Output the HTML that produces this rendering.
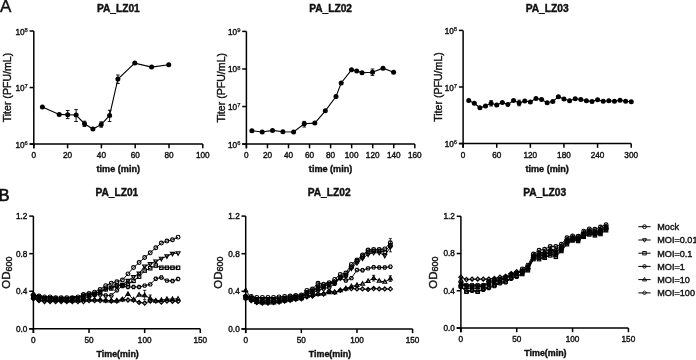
<!DOCTYPE html>
<html><head><meta charset="utf-8">
<style>
html,body{margin:0;padding:0;background:#fff;}
body{width:696px;height:360px;overflow:hidden;}
svg{display:block;filter:grayscale(1);}
text{font-family:"Liberation Sans", sans-serif;fill:#111;stroke:#111;stroke-width:0.4px;}
</style></head><body>
<svg width="696" height="360" viewBox="0 0 696 360">
<rect width="696" height="360" fill="#fff"/>
<g stroke="#000" fill="#000" stroke-linecap="butt">
<text x="0.00" y="12.40" font-size="17" font-weight="normal" text-anchor="start" >A</text>
<text x="-1.60" y="200.60" font-size="16.5" font-weight="normal" text-anchor="start" style="stroke-width:0.7px">B</text>
<text x="118.30" y="11.80" font-size="10.2" font-weight="bold" text-anchor="middle" >PA_LZ01</text>
<line x1="33.80" y1="31.00" x2="33.80" y2="148.30" stroke-width="1.5" />
<line x1="29.60" y1="144.10" x2="202.80" y2="144.10" stroke-width="1.5" />
<line x1="29.60" y1="144.10" x2="33.80" y2="144.10" stroke-width="1.5" />
<text x="27.80" y="147.60" font-size="8.2" text-anchor="end">10<tspan font-size="5.8" dy="-2.7" style="stroke-width:0.25px">6</tspan></text>
<line x1="29.60" y1="87.55" x2="33.80" y2="87.55" stroke-width="1.5" />
<text x="27.80" y="91.05" font-size="8.2" text-anchor="end">10<tspan font-size="5.8" dy="-2.7" style="stroke-width:0.25px">7</tspan></text>
<line x1="29.60" y1="31.00" x2="33.80" y2="31.00" stroke-width="1.5" />
<text x="27.80" y="34.50" font-size="8.2" text-anchor="end">10<tspan font-size="5.8" dy="-2.7" style="stroke-width:0.25px">8</tspan></text>
<line x1="33.80" y1="144.10" x2="33.80" y2="148.30" stroke-width="1.5" />
<text x="33.80" y="157.90" font-size="8.2" font-weight="normal" text-anchor="middle" >0</text>
<line x1="67.60" y1="144.10" x2="67.60" y2="148.30" stroke-width="1.5" />
<text x="67.60" y="157.90" font-size="8.2" font-weight="normal" text-anchor="middle" >20</text>
<line x1="101.40" y1="144.10" x2="101.40" y2="148.30" stroke-width="1.5" />
<text x="101.40" y="157.90" font-size="8.2" font-weight="normal" text-anchor="middle" >40</text>
<line x1="135.20" y1="144.10" x2="135.20" y2="148.30" stroke-width="1.5" />
<text x="135.20" y="157.90" font-size="8.2" font-weight="normal" text-anchor="middle" >60</text>
<line x1="169.00" y1="144.10" x2="169.00" y2="148.30" stroke-width="1.5" />
<text x="169.00" y="157.90" font-size="8.2" font-weight="normal" text-anchor="middle" >80</text>
<line x1="202.80" y1="144.10" x2="202.80" y2="148.30" stroke-width="1.5" />
<text x="202.80" y="157.90" font-size="8.2" font-weight="normal" text-anchor="middle" >100</text>
<text x="118.30" y="171.60" font-size="9.1" font-weight="bold" text-anchor="middle" >time (min)</text>
<text x="11.10" y="87.55" font-size="10.6" font-weight="normal" text-anchor="middle" transform="rotate(-90 11.10 87.55)">Titer (PFU/mL)</text>
<path d="M42.40,107.00 L59.20,114.40 L67.70,114.70 L76.10,115.00 L84.50,123.70 L92.90,129.00 L101.20,124.50 L109.60,115.40 L117.90,79.00 L134.75,63.10 L151.60,67.10 L168.75,64.75" fill="none" stroke-width="1.1"/>
<line x1="67.70" y1="110.50" x2="67.70" y2="118.60" stroke-width="0.9" />
<line x1="65.90" y1="110.50" x2="69.50" y2="110.50" stroke-width="0.9" />
<line x1="65.90" y1="118.60" x2="69.50" y2="118.60" stroke-width="0.9" />
<line x1="76.10" y1="109.60" x2="76.10" y2="121.50" stroke-width="0.9" />
<line x1="74.30" y1="109.60" x2="77.90" y2="109.60" stroke-width="0.9" />
<line x1="74.30" y1="121.50" x2="77.90" y2="121.50" stroke-width="0.9" />
<line x1="84.50" y1="121.20" x2="84.50" y2="126.50" stroke-width="0.9" />
<line x1="82.70" y1="121.20" x2="86.30" y2="121.20" stroke-width="0.9" />
<line x1="82.70" y1="126.50" x2="86.30" y2="126.50" stroke-width="0.9" />
<line x1="101.20" y1="121.80" x2="101.20" y2="127.20" stroke-width="0.9" />
<line x1="99.40" y1="121.80" x2="103.00" y2="121.80" stroke-width="0.9" />
<line x1="99.40" y1="127.20" x2="103.00" y2="127.20" stroke-width="0.9" />
<line x1="109.60" y1="110.30" x2="109.60" y2="121.50" stroke-width="0.9" />
<line x1="107.80" y1="110.30" x2="111.40" y2="110.30" stroke-width="0.9" />
<line x1="107.80" y1="121.50" x2="111.40" y2="121.50" stroke-width="0.9" />
<line x1="117.90" y1="75.00" x2="117.90" y2="83.50" stroke-width="0.9" />
<line x1="116.10" y1="75.00" x2="119.70" y2="75.00" stroke-width="0.9" />
<line x1="116.10" y1="83.50" x2="119.70" y2="83.50" stroke-width="0.9" />
<circle cx="42.40" cy="107.00" r="2.5" stroke="none"/>
<circle cx="59.20" cy="114.40" r="2.5" stroke="none"/>
<circle cx="67.70" cy="114.70" r="2.5" stroke="none"/>
<circle cx="76.10" cy="115.00" r="2.5" stroke="none"/>
<circle cx="84.50" cy="123.70" r="2.5" stroke="none"/>
<circle cx="92.90" cy="129.00" r="2.5" stroke="none"/>
<circle cx="101.20" cy="124.50" r="2.5" stroke="none"/>
<circle cx="109.60" cy="115.40" r="2.5" stroke="none"/>
<circle cx="117.90" cy="79.00" r="2.5" stroke="none"/>
<circle cx="134.75" cy="63.10" r="2.5" stroke="none"/>
<circle cx="151.60" cy="67.10" r="2.5" stroke="none"/>
<circle cx="168.75" cy="64.75" r="2.5" stroke="none"/>
<text x="330.60" y="11.80" font-size="10.2" font-weight="bold" text-anchor="middle" >PA_LZ02</text>
<line x1="246.40" y1="31.40" x2="246.40" y2="148.30" stroke-width="1.5" />
<line x1="242.20" y1="144.10" x2="414.80" y2="144.10" stroke-width="1.5" />
<line x1="242.20" y1="144.10" x2="246.40" y2="144.10" stroke-width="1.5" />
<text x="240.40" y="147.60" font-size="8.2" text-anchor="end">10<tspan font-size="5.8" dy="-2.7" style="stroke-width:0.25px">6</tspan></text>
<line x1="242.20" y1="106.53" x2="246.40" y2="106.53" stroke-width="1.5" />
<text x="240.40" y="110.03" font-size="8.2" text-anchor="end">10<tspan font-size="5.8" dy="-2.7" style="stroke-width:0.25px">7</tspan></text>
<line x1="242.20" y1="68.97" x2="246.40" y2="68.97" stroke-width="1.5" />
<text x="240.40" y="72.47" font-size="8.2" text-anchor="end">10<tspan font-size="5.8" dy="-2.7" style="stroke-width:0.25px">8</tspan></text>
<line x1="242.20" y1="31.40" x2="246.40" y2="31.40" stroke-width="1.5" />
<text x="240.40" y="34.90" font-size="8.2" text-anchor="end">10<tspan font-size="5.8" dy="-2.7" style="stroke-width:0.25px">9</tspan></text>
<line x1="246.40" y1="144.10" x2="246.40" y2="148.30" stroke-width="1.5" />
<text x="246.40" y="157.90" font-size="8.2" font-weight="normal" text-anchor="middle" >0</text>
<line x1="267.45" y1="144.10" x2="267.45" y2="148.30" stroke-width="1.5" />
<text x="267.45" y="157.90" font-size="8.2" font-weight="normal" text-anchor="middle" >20</text>
<line x1="288.50" y1="144.10" x2="288.50" y2="148.30" stroke-width="1.5" />
<text x="288.50" y="157.90" font-size="8.2" font-weight="normal" text-anchor="middle" >40</text>
<line x1="309.55" y1="144.10" x2="309.55" y2="148.30" stroke-width="1.5" />
<text x="309.55" y="157.90" font-size="8.2" font-weight="normal" text-anchor="middle" >60</text>
<line x1="330.60" y1="144.10" x2="330.60" y2="148.30" stroke-width="1.5" />
<text x="330.60" y="157.90" font-size="8.2" font-weight="normal" text-anchor="middle" >80</text>
<line x1="351.65" y1="144.10" x2="351.65" y2="148.30" stroke-width="1.5" />
<text x="351.65" y="157.90" font-size="8.2" font-weight="normal" text-anchor="middle" >100</text>
<line x1="372.70" y1="144.10" x2="372.70" y2="148.30" stroke-width="1.5" />
<text x="372.70" y="157.90" font-size="8.2" font-weight="normal" text-anchor="middle" >120</text>
<line x1="393.75" y1="144.10" x2="393.75" y2="148.30" stroke-width="1.5" />
<text x="393.75" y="157.90" font-size="8.2" font-weight="normal" text-anchor="middle" >140</text>
<line x1="414.80" y1="144.10" x2="414.80" y2="148.30" stroke-width="1.5" />
<text x="414.80" y="157.90" font-size="8.2" font-weight="normal" text-anchor="middle" >160</text>
<text x="330.60" y="171.60" font-size="9.1" font-weight="bold" text-anchor="middle" >time (min)</text>
<text x="224.50" y="87.75" font-size="10.6" font-weight="normal" text-anchor="middle" transform="rotate(-90 224.50 87.75)">Titer (PFU/mL)</text>
<path d="M251.90,130.70 L262.20,132.00 L272.50,130.40 L282.90,131.70 L293.60,132.00 L304.20,123.70 L314.80,123.10 L325.30,110.80 L336.00,96.60 L341.20,83.00 L351.50,69.80 L356.70,70.90 L362.00,72.70 L372.50,72.20 L383.00,68.20 L393.60,72.20" fill="none" stroke-width="1.1"/>
<line x1="304.20" y1="121.40" x2="304.20" y2="127.00" stroke-width="0.9" />
<line x1="302.40" y1="121.40" x2="306.00" y2="121.40" stroke-width="0.9" />
<line x1="302.40" y1="127.00" x2="306.00" y2="127.00" stroke-width="0.9" />
<line x1="372.50" y1="69.00" x2="372.50" y2="75.40" stroke-width="0.9" />
<line x1="370.70" y1="69.00" x2="374.30" y2="69.00" stroke-width="0.9" />
<line x1="370.70" y1="75.40" x2="374.30" y2="75.40" stroke-width="0.9" />
<circle cx="251.90" cy="130.70" r="2.5" stroke="none"/>
<circle cx="262.20" cy="132.00" r="2.5" stroke="none"/>
<circle cx="272.50" cy="130.40" r="2.5" stroke="none"/>
<circle cx="282.90" cy="131.70" r="2.5" stroke="none"/>
<circle cx="293.60" cy="132.00" r="2.5" stroke="none"/>
<circle cx="304.20" cy="123.70" r="2.5" stroke="none"/>
<circle cx="314.80" cy="123.10" r="2.5" stroke="none"/>
<circle cx="325.30" cy="110.80" r="2.5" stroke="none"/>
<circle cx="336.00" cy="96.60" r="2.5" stroke="none"/>
<circle cx="341.20" cy="83.00" r="2.5" stroke="none"/>
<circle cx="351.50" cy="69.80" r="2.5" stroke="none"/>
<circle cx="356.70" cy="70.90" r="2.5" stroke="none"/>
<circle cx="362.00" cy="72.70" r="2.5" stroke="none"/>
<circle cx="372.50" cy="72.20" r="2.5" stroke="none"/>
<circle cx="383.00" cy="68.20" r="2.5" stroke="none"/>
<circle cx="393.60" cy="72.20" r="2.5" stroke="none"/>
<text x="547.15" y="11.80" font-size="10.2" font-weight="bold" text-anchor="middle" >PA_LZ03</text>
<line x1="463.10" y1="30.40" x2="463.10" y2="147.80" stroke-width="1.5" />
<line x1="458.90" y1="143.60" x2="631.20" y2="143.60" stroke-width="1.5" />
<line x1="458.90" y1="143.60" x2="463.10" y2="143.60" stroke-width="1.5" />
<text x="457.10" y="147.10" font-size="8.2" text-anchor="end">10<tspan font-size="5.8" dy="-2.7" style="stroke-width:0.25px">6</tspan></text>
<line x1="458.90" y1="87.00" x2="463.10" y2="87.00" stroke-width="1.5" />
<text x="457.10" y="90.50" font-size="8.2" text-anchor="end">10<tspan font-size="5.8" dy="-2.7" style="stroke-width:0.25px">7</tspan></text>
<line x1="458.90" y1="30.40" x2="463.10" y2="30.40" stroke-width="1.5" />
<text x="457.10" y="33.90" font-size="8.2" text-anchor="end">10<tspan font-size="5.8" dy="-2.7" style="stroke-width:0.25px">8</tspan></text>
<line x1="463.10" y1="143.60" x2="463.10" y2="147.80" stroke-width="1.5" />
<text x="463.10" y="157.90" font-size="8.2" font-weight="normal" text-anchor="middle" >0</text>
<line x1="496.72" y1="143.60" x2="496.72" y2="147.80" stroke-width="1.5" />
<text x="496.72" y="157.90" font-size="8.2" font-weight="normal" text-anchor="middle" >60</text>
<line x1="530.34" y1="143.60" x2="530.34" y2="147.80" stroke-width="1.5" />
<text x="530.34" y="157.90" font-size="8.2" font-weight="normal" text-anchor="middle" >120</text>
<line x1="563.96" y1="143.60" x2="563.96" y2="147.80" stroke-width="1.5" />
<text x="563.96" y="157.90" font-size="8.2" font-weight="normal" text-anchor="middle" >180</text>
<line x1="597.58" y1="143.60" x2="597.58" y2="147.80" stroke-width="1.5" />
<text x="597.58" y="157.90" font-size="8.2" font-weight="normal" text-anchor="middle" >240</text>
<line x1="631.20" y1="143.60" x2="631.20" y2="147.80" stroke-width="1.5" />
<text x="631.20" y="157.90" font-size="8.2" font-weight="normal" text-anchor="middle" >300</text>
<text x="547.15" y="171.60" font-size="9.1" font-weight="bold" text-anchor="middle" >time (min)</text>
<text x="441.80" y="87.00" font-size="10.6" font-weight="normal" text-anchor="middle" transform="rotate(-90 441.80 87.00)">Titer (PFU/mL)</text>
<path d="M468.71,100.40 L474.31,103.30 L479.92,107.80 L485.52,105.90 L491.12,103.30 L496.73,105.00 L502.34,102.40 L507.94,104.60 L513.55,100.40 L519.15,103.00 L524.75,100.90 L530.36,102.00 L535.97,98.40 L541.57,99.60 L547.18,102.70 L552.78,101.60 L558.38,96.70 L563.99,99.10 L569.60,100.70 L575.20,98.70 L580.81,99.40 L586.41,100.70 L592.01,101.40 L597.62,99.80 L603.23,101.20 L608.83,100.70 L614.44,101.20 L620.04,100.20 L625.64,101.20 L631.25,101.80" fill="none" stroke-width="1.1"/>
<line x1="491.12" y1="100.60" x2="491.12" y2="106.00" stroke-width="0.9" />
<line x1="489.32" y1="100.60" x2="492.93" y2="100.60" stroke-width="0.9" />
<line x1="489.32" y1="106.00" x2="492.93" y2="106.00" stroke-width="0.9" />
<line x1="519.15" y1="100.20" x2="519.15" y2="105.80" stroke-width="0.9" />
<line x1="517.35" y1="100.20" x2="520.95" y2="100.20" stroke-width="0.9" />
<line x1="517.35" y1="105.80" x2="520.95" y2="105.80" stroke-width="0.9" />
<circle cx="468.71" cy="100.40" r="2.5" stroke="none"/>
<circle cx="474.31" cy="103.30" r="2.5" stroke="none"/>
<circle cx="479.92" cy="107.80" r="2.5" stroke="none"/>
<circle cx="485.52" cy="105.90" r="2.5" stroke="none"/>
<circle cx="491.12" cy="103.30" r="2.5" stroke="none"/>
<circle cx="496.73" cy="105.00" r="2.5" stroke="none"/>
<circle cx="502.34" cy="102.40" r="2.5" stroke="none"/>
<circle cx="507.94" cy="104.60" r="2.5" stroke="none"/>
<circle cx="513.55" cy="100.40" r="2.5" stroke="none"/>
<circle cx="519.15" cy="103.00" r="2.5" stroke="none"/>
<circle cx="524.75" cy="100.90" r="2.5" stroke="none"/>
<circle cx="530.36" cy="102.00" r="2.5" stroke="none"/>
<circle cx="535.97" cy="98.40" r="2.5" stroke="none"/>
<circle cx="541.57" cy="99.60" r="2.5" stroke="none"/>
<circle cx="547.18" cy="102.70" r="2.5" stroke="none"/>
<circle cx="552.78" cy="101.60" r="2.5" stroke="none"/>
<circle cx="558.38" cy="96.70" r="2.5" stroke="none"/>
<circle cx="563.99" cy="99.10" r="2.5" stroke="none"/>
<circle cx="569.60" cy="100.70" r="2.5" stroke="none"/>
<circle cx="575.20" cy="98.70" r="2.5" stroke="none"/>
<circle cx="580.81" cy="99.40" r="2.5" stroke="none"/>
<circle cx="586.41" cy="100.70" r="2.5" stroke="none"/>
<circle cx="592.01" cy="101.40" r="2.5" stroke="none"/>
<circle cx="597.62" cy="99.80" r="2.5" stroke="none"/>
<circle cx="603.23" cy="101.20" r="2.5" stroke="none"/>
<circle cx="608.83" cy="100.70" r="2.5" stroke="none"/>
<circle cx="614.44" cy="101.20" r="2.5" stroke="none"/>
<circle cx="620.04" cy="100.20" r="2.5" stroke="none"/>
<circle cx="625.64" cy="101.20" r="2.5" stroke="none"/>
<circle cx="631.25" cy="101.80" r="2.5" stroke="none"/>
<text x="116.85" y="196.10" font-size="10.2" font-weight="bold" text-anchor="middle" >PA_LZ01</text>
<line x1="33.40" y1="216.10" x2="33.40" y2="333.00" stroke-width="1.5" />
<line x1="29.20" y1="328.80" x2="200.30" y2="328.80" stroke-width="1.5" />
<line x1="29.20" y1="328.80" x2="33.40" y2="328.80" stroke-width="1.5" />
<text x="27.40" y="331.70" font-size="8.2" font-weight="normal" text-anchor="end" >0.0</text>
<line x1="29.20" y1="291.23" x2="33.40" y2="291.23" stroke-width="1.5" />
<text x="27.40" y="294.13" font-size="8.2" font-weight="normal" text-anchor="end" >0.4</text>
<line x1="29.20" y1="253.67" x2="33.40" y2="253.67" stroke-width="1.5" />
<text x="27.40" y="256.57" font-size="8.2" font-weight="normal" text-anchor="end" >0.8</text>
<line x1="29.20" y1="216.10" x2="33.40" y2="216.10" stroke-width="1.5" />
<text x="27.40" y="219.00" font-size="8.2" font-weight="normal" text-anchor="end" >1.2</text>
<line x1="33.40" y1="328.80" x2="33.40" y2="333.00" stroke-width="1.5" />
<text x="33.40" y="343.20" font-size="8.2" font-weight="normal" text-anchor="middle" >0</text>
<line x1="89.03" y1="328.80" x2="89.03" y2="333.00" stroke-width="1.5" />
<text x="89.03" y="343.20" font-size="8.2" font-weight="normal" text-anchor="middle" >50</text>
<line x1="144.67" y1="328.80" x2="144.67" y2="333.00" stroke-width="1.5" />
<text x="144.67" y="343.20" font-size="8.2" font-weight="normal" text-anchor="middle" >100</text>
<line x1="200.30" y1="328.80" x2="200.30" y2="333.00" stroke-width="1.5" />
<text x="200.30" y="343.20" font-size="8.2" font-weight="normal" text-anchor="middle" >150</text>
<text x="117.65" y="357.00" font-size="8.9" font-weight="bold" text-anchor="middle" >Time(min)</text>
<text x="10.40" y="272.60" font-size="11.4" text-anchor="middle" transform="rotate(-90 10.40 272.60)">OD<tspan font-size="9" dy="1.6">600</tspan></text>
<path d="M33.40,294.99 L38.96,295.93 L44.53,296.87 L50.09,296.87 L55.65,297.81 L61.22,297.81 L66.78,297.81 L72.34,297.81 L77.91,296.87 L83.47,294.52 L89.03,293.58 L94.60,292.17 L100.16,289.54 L105.72,285.60 L111.29,283.16 L116.85,281.84 L122.41,279.96 L127.98,273.86 L133.54,267.57 L139.10,262.59 L144.67,257.52 L150.23,252.82 L155.79,247.75 L161.36,243.05 L166.92,241.08 L172.48,239.77 L178.05,237.14" fill="none" stroke-width="0.95"/>
<circle cx="33.40" cy="294.99" r="1.90" fill="none" stroke-width="1.15"/>
<circle cx="38.96" cy="295.93" r="1.90" fill="none" stroke-width="1.15"/>
<circle cx="44.53" cy="296.87" r="1.90" fill="none" stroke-width="1.15"/>
<circle cx="50.09" cy="296.87" r="1.90" fill="none" stroke-width="1.15"/>
<circle cx="55.65" cy="297.81" r="1.90" fill="none" stroke-width="1.15"/>
<circle cx="61.22" cy="297.81" r="1.90" fill="none" stroke-width="1.15"/>
<circle cx="66.78" cy="297.81" r="1.90" fill="none" stroke-width="1.15"/>
<circle cx="72.34" cy="297.81" r="1.90" fill="none" stroke-width="1.15"/>
<circle cx="77.91" cy="296.87" r="1.90" fill="none" stroke-width="1.15"/>
<circle cx="83.47" cy="294.52" r="1.90" fill="none" stroke-width="1.15"/>
<circle cx="89.03" cy="293.58" r="1.90" fill="none" stroke-width="1.15"/>
<circle cx="94.60" cy="292.17" r="1.90" fill="none" stroke-width="1.15"/>
<circle cx="100.16" cy="289.54" r="1.90" fill="none" stroke-width="1.15"/>
<circle cx="105.72" cy="285.60" r="1.90" fill="none" stroke-width="1.15"/>
<circle cx="111.29" cy="283.16" r="1.90" fill="none" stroke-width="1.15"/>
<circle cx="116.85" cy="281.84" r="1.90" fill="none" stroke-width="1.15"/>
<circle cx="122.41" cy="279.96" r="1.90" fill="none" stroke-width="1.15"/>
<circle cx="127.98" cy="273.86" r="1.90" fill="none" stroke-width="1.15"/>
<circle cx="133.54" cy="267.57" r="1.90" fill="none" stroke-width="1.15"/>
<circle cx="139.10" cy="262.59" r="1.90" fill="none" stroke-width="1.15"/>
<circle cx="144.67" cy="257.52" r="1.90" fill="none" stroke-width="1.15"/>
<circle cx="150.23" cy="252.82" r="1.90" fill="none" stroke-width="1.15"/>
<circle cx="155.79" cy="247.75" r="1.90" fill="none" stroke-width="1.15"/>
<circle cx="161.36" cy="243.05" r="1.90" fill="none" stroke-width="1.15"/>
<circle cx="166.92" cy="241.08" r="1.90" fill="none" stroke-width="1.15"/>
<circle cx="172.48" cy="239.77" r="1.90" fill="none" stroke-width="1.15"/>
<circle cx="178.05" cy="237.14" r="1.90" fill="none" stroke-width="1.15"/>
<path d="M33.40,295.93 L38.96,296.87 L44.53,297.81 L50.09,297.81 L55.65,298.75 L61.22,298.75 L66.78,298.75 L72.34,297.81 L77.91,297.81 L83.47,295.46 L89.03,294.52 L94.60,293.58 L100.16,291.70 L105.72,288.42 L111.29,287.48 L116.85,286.07 L122.41,284.66 L127.98,280.62 L133.54,276.86 L139.10,273.39 L144.67,266.35 L150.23,264.00 L155.79,261.27 L161.36,258.55 L166.92,256.20 L172.48,253.67 L178.05,253.10" fill="none" stroke-width="0.95"/>
<path d="M31.40,294.61 L35.40,294.61 L33.40,298.13 Z" fill="none" stroke-width="1.15"/>
<path d="M36.96,295.55 L40.96,295.55 L38.96,299.07 Z" fill="none" stroke-width="1.15"/>
<path d="M42.53,296.49 L46.53,296.49 L44.53,300.01 Z" fill="none" stroke-width="1.15"/>
<path d="M48.09,296.49 L52.09,296.49 L50.09,300.01 Z" fill="none" stroke-width="1.15"/>
<path d="M53.65,297.43 L57.65,297.43 L55.65,300.95 Z" fill="none" stroke-width="1.15"/>
<path d="M59.22,297.43 L63.22,297.43 L61.22,300.95 Z" fill="none" stroke-width="1.15"/>
<path d="M64.78,297.43 L68.78,297.43 L66.78,300.95 Z" fill="none" stroke-width="1.15"/>
<path d="M70.34,296.49 L74.34,296.49 L72.34,300.01 Z" fill="none" stroke-width="1.15"/>
<path d="M75.91,296.49 L79.91,296.49 L77.91,300.01 Z" fill="none" stroke-width="1.15"/>
<path d="M81.47,294.14 L85.47,294.14 L83.47,297.66 Z" fill="none" stroke-width="1.15"/>
<path d="M87.03,293.20 L91.03,293.20 L89.03,296.72 Z" fill="none" stroke-width="1.15"/>
<path d="M92.60,292.26 L96.60,292.26 L94.60,295.78 Z" fill="none" stroke-width="1.15"/>
<path d="M98.16,290.38 L102.16,290.38 L100.16,293.90 Z" fill="none" stroke-width="1.15"/>
<path d="M103.72,287.10 L107.72,287.10 L105.72,290.62 Z" fill="none" stroke-width="1.15"/>
<path d="M109.29,286.16 L113.29,286.16 L111.29,289.68 Z" fill="none" stroke-width="1.15"/>
<path d="M114.85,284.75 L118.85,284.75 L116.85,288.27 Z" fill="none" stroke-width="1.15"/>
<path d="M120.41,283.34 L124.41,283.34 L122.41,286.86 Z" fill="none" stroke-width="1.15"/>
<path d="M125.98,279.30 L129.98,279.30 L127.98,282.82 Z" fill="none" stroke-width="1.15"/>
<path d="M131.54,275.54 L135.54,275.54 L133.54,279.06 Z" fill="none" stroke-width="1.15"/>
<path d="M137.10,272.07 L141.10,272.07 L139.10,275.59 Z" fill="none" stroke-width="1.15"/>
<path d="M142.67,265.03 L146.67,265.03 L144.67,268.55 Z" fill="none" stroke-width="1.15"/>
<path d="M148.23,262.68 L152.23,262.68 L150.23,266.20 Z" fill="none" stroke-width="1.15"/>
<path d="M153.79,259.95 L157.79,259.95 L155.79,263.47 Z" fill="none" stroke-width="1.15"/>
<path d="M159.36,257.23 L163.36,257.23 L161.36,260.75 Z" fill="none" stroke-width="1.15"/>
<path d="M164.92,254.88 L168.92,254.88 L166.92,258.40 Z" fill="none" stroke-width="1.15"/>
<path d="M170.48,252.35 L174.48,252.35 L172.48,255.87 Z" fill="none" stroke-width="1.15"/>
<path d="M176.05,251.78 L180.05,251.78 L178.05,255.30 Z" fill="none" stroke-width="1.15"/>
<path d="M33.40,296.87 L38.96,297.81 L44.53,298.75 L50.09,298.75 L55.65,298.75 L61.22,299.69 L66.78,299.69 L72.34,298.75 L77.91,298.75 L83.47,296.87 L89.03,294.99 L94.60,294.05 L100.16,292.17 L105.72,289.36 L111.29,288.42 L116.85,285.60 L122.41,285.60 L127.98,283.72 L133.54,280.90 L139.10,276.68 L144.67,270.57 L150.23,268.22 L155.79,265.59 L161.36,267.75 L166.92,267.75 L172.48,267.75 L178.05,267.75" fill="none" stroke-width="0.95"/>
<rect x="31.70" y="295.17" width="3.40" height="3.40" fill="none" stroke-width="1.15"/>
<rect x="37.26" y="296.11" width="3.40" height="3.40" fill="none" stroke-width="1.15"/>
<rect x="42.83" y="297.05" width="3.40" height="3.40" fill="none" stroke-width="1.15"/>
<rect x="48.39" y="297.05" width="3.40" height="3.40" fill="none" stroke-width="1.15"/>
<rect x="53.95" y="297.05" width="3.40" height="3.40" fill="none" stroke-width="1.15"/>
<rect x="59.52" y="297.99" width="3.40" height="3.40" fill="none" stroke-width="1.15"/>
<rect x="65.08" y="297.99" width="3.40" height="3.40" fill="none" stroke-width="1.15"/>
<rect x="70.64" y="297.05" width="3.40" height="3.40" fill="none" stroke-width="1.15"/>
<rect x="76.21" y="297.05" width="3.40" height="3.40" fill="none" stroke-width="1.15"/>
<rect x="81.77" y="295.17" width="3.40" height="3.40" fill="none" stroke-width="1.15"/>
<rect x="87.33" y="293.29" width="3.40" height="3.40" fill="none" stroke-width="1.15"/>
<rect x="92.90" y="292.35" width="3.40" height="3.40" fill="none" stroke-width="1.15"/>
<rect x="98.46" y="290.47" width="3.40" height="3.40" fill="none" stroke-width="1.15"/>
<rect x="104.02" y="287.66" width="3.40" height="3.40" fill="none" stroke-width="1.15"/>
<rect x="109.59" y="286.72" width="3.40" height="3.40" fill="none" stroke-width="1.15"/>
<rect x="115.15" y="283.90" width="3.40" height="3.40" fill="none" stroke-width="1.15"/>
<rect x="120.71" y="283.90" width="3.40" height="3.40" fill="none" stroke-width="1.15"/>
<rect x="126.28" y="282.02" width="3.40" height="3.40" fill="none" stroke-width="1.15"/>
<rect x="131.84" y="279.20" width="3.40" height="3.40" fill="none" stroke-width="1.15"/>
<rect x="137.40" y="274.98" width="3.40" height="3.40" fill="none" stroke-width="1.15"/>
<rect x="142.97" y="268.87" width="3.40" height="3.40" fill="none" stroke-width="1.15"/>
<rect x="148.53" y="266.52" width="3.40" height="3.40" fill="none" stroke-width="1.15"/>
<rect x="154.09" y="263.89" width="3.40" height="3.40" fill="none" stroke-width="1.15"/>
<rect x="159.66" y="266.05" width="3.40" height="3.40" fill="none" stroke-width="1.15"/>
<rect x="165.22" y="266.05" width="3.40" height="3.40" fill="none" stroke-width="1.15"/>
<rect x="170.78" y="266.05" width="3.40" height="3.40" fill="none" stroke-width="1.15"/>
<rect x="176.35" y="266.05" width="3.40" height="3.40" fill="none" stroke-width="1.15"/>
<path d="M33.40,297.81 L38.96,299.69 L44.53,300.62 L50.09,300.62 L55.65,300.62 L61.22,300.62 L66.78,300.62 L72.34,300.62 L77.91,299.69 L83.47,298.75 L89.03,296.87 L94.60,294.99 L100.16,294.52 L105.72,295.46 L111.29,295.46 L116.85,290.29 L122.41,286.07 L127.98,287.01 L133.54,287.01 L139.10,287.01 L144.67,285.60 L150.23,284.38 L155.79,278.74 L161.36,277.52 L166.92,280.62 L172.48,281.09 L178.05,279.02" fill="none" stroke-width="0.95"/>
<polygon points="35.30,297.81 34.35,299.45 32.45,299.45 31.50,297.81 32.45,296.16 34.35,296.16" fill="none" stroke-width="1.15"/>
<polygon points="40.86,299.69 39.91,301.33 38.01,301.33 37.06,299.69 38.01,298.04 39.91,298.04" fill="none" stroke-width="1.15"/>
<polygon points="46.43,300.62 45.48,302.27 43.58,302.27 42.63,300.62 43.58,298.98 45.48,298.98" fill="none" stroke-width="1.15"/>
<polygon points="51.99,300.62 51.04,302.27 49.14,302.27 48.19,300.62 49.14,298.98 51.04,298.98" fill="none" stroke-width="1.15"/>
<polygon points="57.55,300.62 56.60,302.27 54.70,302.27 53.75,300.62 54.70,298.98 56.60,298.98" fill="none" stroke-width="1.15"/>
<polygon points="63.12,300.62 62.17,302.27 60.27,302.27 59.32,300.62 60.27,298.98 62.17,298.98" fill="none" stroke-width="1.15"/>
<polygon points="68.68,300.62 67.73,302.27 65.83,302.27 64.88,300.62 65.83,298.98 67.73,298.98" fill="none" stroke-width="1.15"/>
<polygon points="74.24,300.62 73.29,302.27 71.39,302.27 70.44,300.62 71.39,298.98 73.29,298.98" fill="none" stroke-width="1.15"/>
<polygon points="79.81,299.69 78.86,301.33 76.96,301.33 76.01,299.69 76.96,298.04 78.86,298.04" fill="none" stroke-width="1.15"/>
<polygon points="85.37,298.75 84.42,300.39 82.52,300.39 81.57,298.75 82.52,297.10 84.42,297.10" fill="none" stroke-width="1.15"/>
<polygon points="90.93,296.87 89.98,298.51 88.08,298.51 87.13,296.87 88.08,295.22 89.98,295.22" fill="none" stroke-width="1.15"/>
<polygon points="96.50,294.99 95.55,296.64 93.65,296.64 92.70,294.99 93.65,293.34 95.55,293.34" fill="none" stroke-width="1.15"/>
<polygon points="102.06,294.52 101.11,296.17 99.21,296.17 98.26,294.52 99.21,292.87 101.11,292.87" fill="none" stroke-width="1.15"/>
<polygon points="107.62,295.46 106.67,297.11 104.77,297.11 103.82,295.46 104.77,293.81 106.67,293.81" fill="none" stroke-width="1.15"/>
<polygon points="113.19,295.46 112.24,297.11 110.34,297.11 109.39,295.46 110.34,293.81 112.24,293.81" fill="none" stroke-width="1.15"/>
<polygon points="118.75,290.29 117.80,291.94 115.90,291.94 114.95,290.29 115.90,288.65 117.80,288.65" fill="none" stroke-width="1.15"/>
<polygon points="124.31,286.07 123.36,287.71 121.46,287.71 120.51,286.07 121.46,284.42 123.36,284.42" fill="none" stroke-width="1.15"/>
<polygon points="129.88,287.01 128.93,288.65 127.03,288.65 126.08,287.01 127.03,285.36 128.93,285.36" fill="none" stroke-width="1.15"/>
<polygon points="135.44,287.01 134.49,288.65 132.59,288.65 131.64,287.01 132.59,285.36 134.49,285.36" fill="none" stroke-width="1.15"/>
<polygon points="141.00,287.01 140.05,288.65 138.15,288.65 137.20,287.01 138.15,285.36 140.05,285.36" fill="none" stroke-width="1.15"/>
<polygon points="146.57,285.60 145.62,287.24 143.72,287.24 142.77,285.60 143.72,283.95 145.62,283.95" fill="none" stroke-width="1.15"/>
<polygon points="152.13,284.38 151.18,286.02 149.28,286.02 148.33,284.38 149.28,282.73 151.18,282.73" fill="none" stroke-width="1.15"/>
<polygon points="157.69,278.74 156.74,280.39 154.84,280.39 153.89,278.74 154.84,277.10 156.74,277.10" fill="none" stroke-width="1.15"/>
<polygon points="163.26,277.52 162.31,279.17 160.41,279.17 159.46,277.52 160.41,275.88 162.31,275.88" fill="none" stroke-width="1.15"/>
<polygon points="168.82,280.62 167.87,282.27 165.97,282.27 165.02,280.62 165.97,278.98 167.87,278.98" fill="none" stroke-width="1.15"/>
<polygon points="174.38,281.09 173.43,282.74 171.53,282.74 170.58,281.09 171.53,279.44 173.43,279.44" fill="none" stroke-width="1.15"/>
<polygon points="179.95,279.02 179.00,280.67 177.10,280.67 176.15,279.02 177.10,277.38 179.00,277.38" fill="none" stroke-width="1.15"/>
<path d="M33.40,294.05 L38.96,296.87 L44.53,298.75 L50.09,299.69 L55.65,299.69 L61.22,299.69 L66.78,300.62 L72.34,300.62 L77.91,300.62 L83.47,299.69 L89.03,299.69 L94.60,299.69 L100.16,299.69 L105.72,300.62 L111.29,300.62 L116.85,300.62 L122.41,299.69 L127.98,294.05 L133.54,299.69 L139.10,294.80 L144.67,295.46 L150.23,298.28 L155.79,300.91 L161.36,300.06 L166.92,299.12 L172.48,299.12 L178.05,298.75" fill="none" stroke-width="0.95"/>
<path d="M31.40,295.37 L35.40,295.37 L33.40,291.85 Z" fill="none" stroke-width="1.15"/>
<path d="M36.96,298.19 L40.96,298.19 L38.96,294.67 Z" fill="none" stroke-width="1.15"/>
<path d="M42.53,300.07 L46.53,300.07 L44.53,296.55 Z" fill="none" stroke-width="1.15"/>
<path d="M48.09,301.01 L52.09,301.01 L50.09,297.49 Z" fill="none" stroke-width="1.15"/>
<path d="M53.65,301.01 L57.65,301.01 L55.65,297.49 Z" fill="none" stroke-width="1.15"/>
<path d="M59.22,301.01 L63.22,301.01 L61.22,297.49 Z" fill="none" stroke-width="1.15"/>
<path d="M64.78,301.94 L68.78,301.94 L66.78,298.43 Z" fill="none" stroke-width="1.15"/>
<path d="M70.34,301.94 L74.34,301.94 L72.34,298.43 Z" fill="none" stroke-width="1.15"/>
<path d="M75.91,301.94 L79.91,301.94 L77.91,298.43 Z" fill="none" stroke-width="1.15"/>
<path d="M81.47,301.01 L85.47,301.01 L83.47,297.49 Z" fill="none" stroke-width="1.15"/>
<path d="M87.03,301.01 L91.03,301.01 L89.03,297.49 Z" fill="none" stroke-width="1.15"/>
<path d="M92.60,301.01 L96.60,301.01 L94.60,297.49 Z" fill="none" stroke-width="1.15"/>
<path d="M98.16,301.01 L102.16,301.01 L100.16,297.49 Z" fill="none" stroke-width="1.15"/>
<path d="M103.72,301.94 L107.72,301.94 L105.72,298.43 Z" fill="none" stroke-width="1.15"/>
<path d="M109.29,301.94 L113.29,301.94 L111.29,298.43 Z" fill="none" stroke-width="1.15"/>
<path d="M114.85,301.94 L118.85,301.94 L116.85,298.43 Z" fill="none" stroke-width="1.15"/>
<path d="M120.41,301.01 L124.41,301.01 L122.41,297.49 Z" fill="none" stroke-width="1.15"/>
<path d="M125.98,295.37 L129.98,295.37 L127.98,291.85 Z" fill="none" stroke-width="1.15"/>
<path d="M131.54,301.01 L135.54,301.01 L133.54,297.49 Z" fill="none" stroke-width="1.15"/>
<path d="M137.10,296.12 L141.10,296.12 L139.10,292.60 Z" fill="none" stroke-width="1.15"/>
<path d="M142.67,296.78 L146.67,296.78 L144.67,293.26 Z" fill="none" stroke-width="1.15"/>
<path d="M148.23,299.60 L152.23,299.60 L150.23,296.08 Z" fill="none" stroke-width="1.15"/>
<path d="M153.79,302.23 L157.79,302.23 L155.79,298.71 Z" fill="none" stroke-width="1.15"/>
<path d="M159.36,301.38 L163.36,301.38 L161.36,297.86 Z" fill="none" stroke-width="1.15"/>
<path d="M164.92,300.44 L168.92,300.44 L166.92,296.92 Z" fill="none" stroke-width="1.15"/>
<path d="M170.48,300.44 L174.48,300.44 L172.48,296.92 Z" fill="none" stroke-width="1.15"/>
<path d="M176.05,300.07 L180.05,300.07 L178.05,296.55 Z" fill="none" stroke-width="1.15"/>
<path d="M33.40,298.75 L38.96,300.62 L44.53,301.56 L50.09,301.56 L55.65,301.56 L61.22,301.56 L66.78,301.56 L72.34,301.56 L77.91,301.56 L83.47,301.56 L89.03,300.62 L94.60,300.62 L100.16,300.62 L105.72,300.62 L111.29,301.00 L116.85,301.00 L122.41,299.40 L127.98,299.97 L133.54,299.97 L139.10,302.41 L144.67,303.07 L150.23,301.00 L155.79,301.00 L161.36,302.03 L166.92,301.00 L172.48,301.28 L178.05,301.28" fill="none" stroke-width="0.95"/>
<path d="M33.40,296.65 L35.50,298.75 L33.40,300.85 L31.30,298.75 Z" fill="none" stroke-width="1.15"/>
<path d="M38.96,298.52 L41.06,300.62 L38.96,302.73 L36.86,300.62 Z" fill="none" stroke-width="1.15"/>
<path d="M44.53,299.46 L46.63,301.56 L44.53,303.66 L42.43,301.56 Z" fill="none" stroke-width="1.15"/>
<path d="M50.09,299.46 L52.19,301.56 L50.09,303.66 L47.99,301.56 Z" fill="none" stroke-width="1.15"/>
<path d="M55.65,299.46 L57.75,301.56 L55.65,303.66 L53.55,301.56 Z" fill="none" stroke-width="1.15"/>
<path d="M61.22,299.46 L63.32,301.56 L61.22,303.66 L59.12,301.56 Z" fill="none" stroke-width="1.15"/>
<path d="M66.78,299.46 L68.88,301.56 L66.78,303.66 L64.68,301.56 Z" fill="none" stroke-width="1.15"/>
<path d="M72.34,299.46 L74.44,301.56 L72.34,303.66 L70.24,301.56 Z" fill="none" stroke-width="1.15"/>
<path d="M77.91,299.46 L80.01,301.56 L77.91,303.66 L75.81,301.56 Z" fill="none" stroke-width="1.15"/>
<path d="M83.47,299.46 L85.57,301.56 L83.47,303.66 L81.37,301.56 Z" fill="none" stroke-width="1.15"/>
<path d="M89.03,298.52 L91.13,300.62 L89.03,302.73 L86.93,300.62 Z" fill="none" stroke-width="1.15"/>
<path d="M94.60,298.52 L96.70,300.62 L94.60,302.73 L92.50,300.62 Z" fill="none" stroke-width="1.15"/>
<path d="M100.16,298.52 L102.26,300.62 L100.16,302.73 L98.06,300.62 Z" fill="none" stroke-width="1.15"/>
<path d="M105.72,298.52 L107.82,300.62 L105.72,302.73 L103.62,300.62 Z" fill="none" stroke-width="1.15"/>
<path d="M111.29,298.90 L113.39,301.00 L111.29,303.10 L109.19,301.00 Z" fill="none" stroke-width="1.15"/>
<path d="M116.85,298.90 L118.95,301.00 L116.85,303.10 L114.75,301.00 Z" fill="none" stroke-width="1.15"/>
<path d="M122.41,297.30 L124.51,299.40 L122.41,301.50 L120.31,299.40 Z" fill="none" stroke-width="1.15"/>
<path d="M127.98,297.87 L130.08,299.97 L127.98,302.07 L125.88,299.97 Z" fill="none" stroke-width="1.15"/>
<path d="M133.54,297.87 L135.64,299.97 L133.54,302.07 L131.44,299.97 Z" fill="none" stroke-width="1.15"/>
<path d="M139.10,300.31 L141.20,302.41 L139.10,304.51 L137.00,302.41 Z" fill="none" stroke-width="1.15"/>
<path d="M144.67,300.97 L146.77,303.07 L144.67,305.17 L142.57,303.07 Z" fill="none" stroke-width="1.15"/>
<path d="M150.23,298.90 L152.33,301.00 L150.23,303.10 L148.13,301.00 Z" fill="none" stroke-width="1.15"/>
<path d="M155.79,298.90 L157.89,301.00 L155.79,303.10 L153.69,301.00 Z" fill="none" stroke-width="1.15"/>
<path d="M161.36,299.93 L163.46,302.03 L161.36,304.13 L159.26,302.03 Z" fill="none" stroke-width="1.15"/>
<path d="M166.92,298.90 L169.02,301.00 L166.92,303.10 L164.82,301.00 Z" fill="none" stroke-width="1.15"/>
<path d="M172.48,299.18 L174.58,301.28 L172.48,303.38 L170.38,301.28 Z" fill="none" stroke-width="1.15"/>
<path d="M178.05,299.18 L180.15,301.28 L178.05,303.38 L175.95,301.28 Z" fill="none" stroke-width="1.15"/>
<line x1="144.67" y1="299.69" x2="144.67" y2="290.29" stroke-width="0.8" />
<line x1="143.07" y1="299.69" x2="146.27" y2="299.69" stroke-width="0.8" />
<line x1="143.07" y1="290.29" x2="146.27" y2="290.29" stroke-width="0.8" />
<line x1="150.23" y1="302.50" x2="150.23" y2="294.99" stroke-width="0.8" />
<line x1="148.63" y1="302.50" x2="151.83" y2="302.50" stroke-width="0.8" />
<line x1="148.63" y1="294.99" x2="151.83" y2="294.99" stroke-width="0.8" />
<text x="329.15" y="196.10" font-size="10.2" font-weight="bold" text-anchor="middle" >PA_LZ02</text>
<line x1="245.70" y1="216.10" x2="245.70" y2="333.10" stroke-width="1.5" />
<line x1="241.50" y1="328.90" x2="412.60" y2="328.90" stroke-width="1.5" />
<line x1="241.50" y1="328.90" x2="245.70" y2="328.90" stroke-width="1.5" />
<text x="239.70" y="331.80" font-size="8.2" font-weight="normal" text-anchor="end" >0.0</text>
<line x1="241.50" y1="291.30" x2="245.70" y2="291.30" stroke-width="1.5" />
<text x="239.70" y="294.20" font-size="8.2" font-weight="normal" text-anchor="end" >0.4</text>
<line x1="241.50" y1="253.70" x2="245.70" y2="253.70" stroke-width="1.5" />
<text x="239.70" y="256.60" font-size="8.2" font-weight="normal" text-anchor="end" >0.8</text>
<line x1="241.50" y1="216.10" x2="245.70" y2="216.10" stroke-width="1.5" />
<text x="239.70" y="219.00" font-size="8.2" font-weight="normal" text-anchor="end" >1.2</text>
<line x1="245.70" y1="328.90" x2="245.70" y2="333.10" stroke-width="1.5" />
<text x="245.70" y="343.30" font-size="8.2" font-weight="normal" text-anchor="middle" >0</text>
<line x1="301.33" y1="328.90" x2="301.33" y2="333.10" stroke-width="1.5" />
<text x="301.33" y="343.30" font-size="8.2" font-weight="normal" text-anchor="middle" >50</text>
<line x1="356.97" y1="328.90" x2="356.97" y2="333.10" stroke-width="1.5" />
<text x="356.97" y="343.30" font-size="8.2" font-weight="normal" text-anchor="middle" >100</text>
<line x1="412.60" y1="328.90" x2="412.60" y2="333.10" stroke-width="1.5" />
<text x="412.60" y="343.30" font-size="8.2" font-weight="normal" text-anchor="middle" >150</text>
<text x="329.95" y="357.10" font-size="8.9" font-weight="bold" text-anchor="middle" >Time(min)</text>
<text x="221.70" y="272.60" font-size="11.4" text-anchor="middle" transform="rotate(-90 221.70 272.60)">OD<tspan font-size="9" dy="1.6">600</tspan></text>
<path d="M245.70,296.47 L251.26,296.47 L256.83,297.41 L262.39,297.41 L267.95,297.41 L273.52,297.41 L279.08,296.94 L284.64,296.47 L290.21,296.00 L295.77,295.53 L301.33,295.06 L306.90,290.36 L312.46,288.95 L318.02,283.31 L323.59,284.16 L329.15,282.84 L334.71,279.36 L340.28,274.38 L345.84,272.97 L351.40,264.42 L356.97,260.00 L362.53,255.02 L368.09,250.03 L373.66,249.38 L379.22,249.38 L384.78,248.91 L390.35,242.80" fill="none" stroke-width="0.95"/>
<circle cx="245.70" cy="296.47" r="1.90" fill="none" stroke-width="1.15"/>
<circle cx="251.26" cy="296.47" r="1.90" fill="none" stroke-width="1.15"/>
<circle cx="256.83" cy="297.41" r="1.90" fill="none" stroke-width="1.15"/>
<circle cx="262.39" cy="297.41" r="1.90" fill="none" stroke-width="1.15"/>
<circle cx="267.95" cy="297.41" r="1.90" fill="none" stroke-width="1.15"/>
<circle cx="273.52" cy="297.41" r="1.90" fill="none" stroke-width="1.15"/>
<circle cx="279.08" cy="296.94" r="1.90" fill="none" stroke-width="1.15"/>
<circle cx="284.64" cy="296.47" r="1.90" fill="none" stroke-width="1.15"/>
<circle cx="290.21" cy="296.00" r="1.90" fill="none" stroke-width="1.15"/>
<circle cx="295.77" cy="295.53" r="1.90" fill="none" stroke-width="1.15"/>
<circle cx="301.33" cy="295.06" r="1.90" fill="none" stroke-width="1.15"/>
<circle cx="306.90" cy="290.36" r="1.90" fill="none" stroke-width="1.15"/>
<circle cx="312.46" cy="288.95" r="1.90" fill="none" stroke-width="1.15"/>
<circle cx="318.02" cy="283.31" r="1.90" fill="none" stroke-width="1.15"/>
<circle cx="323.59" cy="284.16" r="1.90" fill="none" stroke-width="1.15"/>
<circle cx="329.15" cy="282.84" r="1.90" fill="none" stroke-width="1.15"/>
<circle cx="334.71" cy="279.36" r="1.90" fill="none" stroke-width="1.15"/>
<circle cx="340.28" cy="274.38" r="1.90" fill="none" stroke-width="1.15"/>
<circle cx="345.84" cy="272.97" r="1.90" fill="none" stroke-width="1.15"/>
<circle cx="351.40" cy="264.42" r="1.90" fill="none" stroke-width="1.15"/>
<circle cx="356.97" cy="260.00" r="1.90" fill="none" stroke-width="1.15"/>
<circle cx="362.53" cy="255.02" r="1.90" fill="none" stroke-width="1.15"/>
<circle cx="368.09" cy="250.03" r="1.90" fill="none" stroke-width="1.15"/>
<circle cx="373.66" cy="249.38" r="1.90" fill="none" stroke-width="1.15"/>
<circle cx="379.22" cy="249.38" r="1.90" fill="none" stroke-width="1.15"/>
<circle cx="384.78" cy="248.91" r="1.90" fill="none" stroke-width="1.15"/>
<circle cx="390.35" cy="242.80" r="1.90" fill="none" stroke-width="1.15"/>
<path d="M245.70,296.94 L251.26,297.88 L256.83,298.82 L262.39,298.82 L267.95,298.82 L273.52,298.82 L279.08,298.35 L284.64,297.88 L290.21,297.41 L295.77,296.47 L301.33,296.00 L306.90,292.24 L312.46,290.36 L318.02,286.60 L323.59,285.66 L329.15,283.78 L334.71,282.84 L340.28,278.14 L345.84,276.26 L351.40,268.27 L356.97,262.82 L362.53,258.31 L368.09,254.45 L373.66,252.76 L379.22,252.76 L384.78,255.58 L390.35,247.21" fill="none" stroke-width="0.95"/>
<path d="M243.70,295.62 L247.70,295.62 L245.70,299.14 Z" fill="none" stroke-width="1.15"/>
<path d="M249.26,296.56 L253.26,296.56 L251.26,300.08 Z" fill="none" stroke-width="1.15"/>
<path d="M254.83,297.50 L258.83,297.50 L256.83,301.02 Z" fill="none" stroke-width="1.15"/>
<path d="M260.39,297.50 L264.39,297.50 L262.39,301.02 Z" fill="none" stroke-width="1.15"/>
<path d="M265.95,297.50 L269.95,297.50 L267.95,301.02 Z" fill="none" stroke-width="1.15"/>
<path d="M271.52,297.50 L275.52,297.50 L273.52,301.02 Z" fill="none" stroke-width="1.15"/>
<path d="M277.08,297.03 L281.08,297.03 L279.08,300.55 Z" fill="none" stroke-width="1.15"/>
<path d="M282.64,296.56 L286.64,296.56 L284.64,300.08 Z" fill="none" stroke-width="1.15"/>
<path d="M288.21,296.09 L292.21,296.09 L290.21,299.61 Z" fill="none" stroke-width="1.15"/>
<path d="M293.77,295.15 L297.77,295.15 L295.77,298.67 Z" fill="none" stroke-width="1.15"/>
<path d="M299.33,294.68 L303.33,294.68 L301.33,298.20 Z" fill="none" stroke-width="1.15"/>
<path d="M304.90,290.92 L308.90,290.92 L306.90,294.44 Z" fill="none" stroke-width="1.15"/>
<path d="M310.46,289.04 L314.46,289.04 L312.46,292.56 Z" fill="none" stroke-width="1.15"/>
<path d="M316.02,285.28 L320.02,285.28 L318.02,288.80 Z" fill="none" stroke-width="1.15"/>
<path d="M321.59,284.34 L325.59,284.34 L323.59,287.86 Z" fill="none" stroke-width="1.15"/>
<path d="M327.15,282.46 L331.15,282.46 L329.15,285.98 Z" fill="none" stroke-width="1.15"/>
<path d="M332.71,281.52 L336.71,281.52 L334.71,285.04 Z" fill="none" stroke-width="1.15"/>
<path d="M338.28,276.82 L342.28,276.82 L340.28,280.34 Z" fill="none" stroke-width="1.15"/>
<path d="M343.84,274.94 L347.84,274.94 L345.84,278.46 Z" fill="none" stroke-width="1.15"/>
<path d="M349.40,266.95 L353.40,266.95 L351.40,270.47 Z" fill="none" stroke-width="1.15"/>
<path d="M354.97,261.50 L358.97,261.50 L356.97,265.02 Z" fill="none" stroke-width="1.15"/>
<path d="M360.53,256.99 L364.53,256.99 L362.53,260.51 Z" fill="none" stroke-width="1.15"/>
<path d="M366.09,253.13 L370.09,253.13 L368.09,256.65 Z" fill="none" stroke-width="1.15"/>
<path d="M371.66,251.44 L375.66,251.44 L373.66,254.96 Z" fill="none" stroke-width="1.15"/>
<path d="M377.22,251.44 L381.22,251.44 L379.22,254.96 Z" fill="none" stroke-width="1.15"/>
<path d="M382.78,254.26 L386.78,254.26 L384.78,257.78 Z" fill="none" stroke-width="1.15"/>
<path d="M388.35,245.89 L392.35,245.89 L390.35,249.41 Z" fill="none" stroke-width="1.15"/>
<path d="M245.70,297.88 L251.26,298.82 L256.83,300.23 L262.39,300.23 L267.95,300.23 L273.52,300.23 L279.08,299.76 L284.64,298.82 L290.21,297.88 L295.77,296.94 L301.33,296.47 L306.90,293.18 L312.46,291.30 L318.02,288.48 L323.59,286.60 L329.15,284.72 L334.71,281.90 L340.28,277.20 L345.84,275.32 L351.40,266.86 L356.97,261.22 L362.53,256.52 L368.09,251.82 L373.66,250.88 L379.22,250.88 L384.78,251.82 L390.35,245.24" fill="none" stroke-width="0.95"/>
<rect x="244.00" y="296.18" width="3.40" height="3.40" fill="none" stroke-width="1.15"/>
<rect x="249.56" y="297.12" width="3.40" height="3.40" fill="none" stroke-width="1.15"/>
<rect x="255.13" y="298.53" width="3.40" height="3.40" fill="none" stroke-width="1.15"/>
<rect x="260.69" y="298.53" width="3.40" height="3.40" fill="none" stroke-width="1.15"/>
<rect x="266.25" y="298.53" width="3.40" height="3.40" fill="none" stroke-width="1.15"/>
<rect x="271.82" y="298.53" width="3.40" height="3.40" fill="none" stroke-width="1.15"/>
<rect x="277.38" y="298.06" width="3.40" height="3.40" fill="none" stroke-width="1.15"/>
<rect x="282.94" y="297.12" width="3.40" height="3.40" fill="none" stroke-width="1.15"/>
<rect x="288.51" y="296.18" width="3.40" height="3.40" fill="none" stroke-width="1.15"/>
<rect x="294.07" y="295.24" width="3.40" height="3.40" fill="none" stroke-width="1.15"/>
<rect x="299.63" y="294.77" width="3.40" height="3.40" fill="none" stroke-width="1.15"/>
<rect x="305.20" y="291.48" width="3.40" height="3.40" fill="none" stroke-width="1.15"/>
<rect x="310.76" y="289.60" width="3.40" height="3.40" fill="none" stroke-width="1.15"/>
<rect x="316.32" y="286.78" width="3.40" height="3.40" fill="none" stroke-width="1.15"/>
<rect x="321.89" y="284.90" width="3.40" height="3.40" fill="none" stroke-width="1.15"/>
<rect x="327.45" y="283.02" width="3.40" height="3.40" fill="none" stroke-width="1.15"/>
<rect x="333.01" y="280.20" width="3.40" height="3.40" fill="none" stroke-width="1.15"/>
<rect x="338.58" y="275.50" width="3.40" height="3.40" fill="none" stroke-width="1.15"/>
<rect x="344.14" y="273.62" width="3.40" height="3.40" fill="none" stroke-width="1.15"/>
<rect x="349.70" y="265.16" width="3.40" height="3.40" fill="none" stroke-width="1.15"/>
<rect x="355.27" y="259.52" width="3.40" height="3.40" fill="none" stroke-width="1.15"/>
<rect x="360.83" y="254.82" width="3.40" height="3.40" fill="none" stroke-width="1.15"/>
<rect x="366.39" y="250.12" width="3.40" height="3.40" fill="none" stroke-width="1.15"/>
<rect x="371.96" y="249.18" width="3.40" height="3.40" fill="none" stroke-width="1.15"/>
<rect x="377.52" y="249.18" width="3.40" height="3.40" fill="none" stroke-width="1.15"/>
<rect x="383.08" y="250.12" width="3.40" height="3.40" fill="none" stroke-width="1.15"/>
<rect x="388.65" y="243.54" width="3.40" height="3.40" fill="none" stroke-width="1.15"/>
<path d="M245.70,298.35 L251.26,299.76 L256.83,301.17 L262.39,301.17 L267.95,301.17 L273.52,301.17 L279.08,300.70 L284.64,299.76 L290.21,298.82 L295.77,297.88 L301.33,297.41 L306.90,294.12 L312.46,293.18 L318.02,290.36 L323.59,288.48 L329.15,287.54 L334.71,283.78 L340.28,278.14 L345.84,280.49 L351.40,278.14 L356.97,270.06 L362.53,270.15 L368.09,268.36 L373.66,267.33 L379.22,267.52 L384.78,267.52 L390.35,266.67" fill="none" stroke-width="0.95"/>
<polygon points="247.60,298.35 246.65,300.00 244.75,300.00 243.80,298.35 244.75,296.70 246.65,296.70" fill="none" stroke-width="1.15"/>
<polygon points="253.16,299.76 252.21,301.41 250.31,301.41 249.36,299.76 250.31,298.11 252.21,298.11" fill="none" stroke-width="1.15"/>
<polygon points="258.73,301.17 257.78,302.82 255.88,302.82 254.93,301.17 255.88,299.52 257.78,299.52" fill="none" stroke-width="1.15"/>
<polygon points="264.29,301.17 263.34,302.82 261.44,302.82 260.49,301.17 261.44,299.52 263.34,299.52" fill="none" stroke-width="1.15"/>
<polygon points="269.85,301.17 268.90,302.82 267.00,302.82 266.05,301.17 267.00,299.52 268.90,299.52" fill="none" stroke-width="1.15"/>
<polygon points="275.42,301.17 274.47,302.82 272.57,302.82 271.62,301.17 272.57,299.52 274.47,299.52" fill="none" stroke-width="1.15"/>
<polygon points="280.98,300.70 280.03,302.35 278.13,302.35 277.18,300.70 278.13,299.05 280.03,299.05" fill="none" stroke-width="1.15"/>
<polygon points="286.54,299.76 285.59,301.41 283.69,301.41 282.74,299.76 283.69,298.11 285.59,298.11" fill="none" stroke-width="1.15"/>
<polygon points="292.11,298.82 291.16,300.47 289.26,300.47 288.31,298.82 289.26,297.17 291.16,297.17" fill="none" stroke-width="1.15"/>
<polygon points="297.67,297.88 296.72,299.53 294.82,299.53 293.87,297.88 294.82,296.23 296.72,296.23" fill="none" stroke-width="1.15"/>
<polygon points="303.23,297.41 302.28,299.06 300.38,299.06 299.43,297.41 300.38,295.76 302.28,295.76" fill="none" stroke-width="1.15"/>
<polygon points="308.80,294.12 307.85,295.77 305.95,295.77 305.00,294.12 305.95,292.47 307.85,292.47" fill="none" stroke-width="1.15"/>
<polygon points="314.36,293.18 313.41,294.83 311.51,294.83 310.56,293.18 311.51,291.53 313.41,291.53" fill="none" stroke-width="1.15"/>
<polygon points="319.92,290.36 318.97,292.01 317.07,292.01 316.12,290.36 317.07,288.71 318.97,288.71" fill="none" stroke-width="1.15"/>
<polygon points="325.49,288.48 324.54,290.13 322.64,290.13 321.69,288.48 322.64,286.83 324.54,286.83" fill="none" stroke-width="1.15"/>
<polygon points="331.05,287.54 330.10,289.19 328.20,289.19 327.25,287.54 328.20,285.89 330.10,285.89" fill="none" stroke-width="1.15"/>
<polygon points="336.61,283.78 335.66,285.43 333.76,285.43 332.81,283.78 333.76,282.13 335.66,282.13" fill="none" stroke-width="1.15"/>
<polygon points="342.18,278.14 341.23,279.79 339.33,279.79 338.38,278.14 339.33,276.49 341.23,276.49" fill="none" stroke-width="1.15"/>
<polygon points="347.74,280.49 346.79,282.14 344.89,282.14 343.94,280.49 344.89,278.84 346.79,278.84" fill="none" stroke-width="1.15"/>
<polygon points="353.30,278.14 352.35,279.79 350.45,279.79 349.50,278.14 350.45,276.49 352.35,276.49" fill="none" stroke-width="1.15"/>
<polygon points="358.87,270.06 357.92,271.70 356.02,271.70 355.07,270.06 356.02,268.41 357.92,268.41" fill="none" stroke-width="1.15"/>
<polygon points="364.43,270.15 363.48,271.80 361.58,271.80 360.63,270.15 361.58,268.50 363.48,268.50" fill="none" stroke-width="1.15"/>
<polygon points="369.99,268.36 369.04,270.01 367.14,270.01 366.19,268.36 367.14,266.72 369.04,266.72" fill="none" stroke-width="1.15"/>
<polygon points="375.56,267.33 374.61,268.98 372.71,268.98 371.76,267.33 372.71,265.68 374.61,265.68" fill="none" stroke-width="1.15"/>
<polygon points="381.12,267.52 380.17,269.16 378.27,269.16 377.32,267.52 378.27,265.87 380.17,265.87" fill="none" stroke-width="1.15"/>
<polygon points="386.68,267.52 385.73,269.16 383.83,269.16 382.88,267.52 383.83,265.87 385.73,265.87" fill="none" stroke-width="1.15"/>
<polygon points="392.25,266.67 391.30,268.32 389.40,268.32 388.45,266.67 389.40,265.03 391.30,265.03" fill="none" stroke-width="1.15"/>
<path d="M245.70,290.36 L251.26,297.88 L256.83,302.11 L262.39,302.58 L267.95,302.58 L273.52,302.58 L279.08,301.64 L284.64,300.70 L290.21,299.76 L295.77,298.82 L301.33,298.35 L306.90,296.00 L312.46,295.06 L318.02,294.12 L323.59,293.65 L329.15,292.24 L334.71,292.24 L340.28,290.36 L345.84,288.48 L351.40,286.32 L356.97,285.10 L362.53,283.97 L368.09,281.15 L373.66,278.14 L379.22,280.96 L384.78,281.90 L390.35,278.61" fill="none" stroke-width="0.95"/>
<path d="M243.70,291.68 L247.70,291.68 L245.70,288.16 Z" fill="none" stroke-width="1.15"/>
<path d="M249.26,299.20 L253.26,299.20 L251.26,295.68 Z" fill="none" stroke-width="1.15"/>
<path d="M254.83,303.43 L258.83,303.43 L256.83,299.91 Z" fill="none" stroke-width="1.15"/>
<path d="M260.39,303.90 L264.39,303.90 L262.39,300.38 Z" fill="none" stroke-width="1.15"/>
<path d="M265.95,303.90 L269.95,303.90 L267.95,300.38 Z" fill="none" stroke-width="1.15"/>
<path d="M271.52,303.90 L275.52,303.90 L273.52,300.38 Z" fill="none" stroke-width="1.15"/>
<path d="M277.08,302.96 L281.08,302.96 L279.08,299.44 Z" fill="none" stroke-width="1.15"/>
<path d="M282.64,302.02 L286.64,302.02 L284.64,298.50 Z" fill="none" stroke-width="1.15"/>
<path d="M288.21,301.08 L292.21,301.08 L290.21,297.56 Z" fill="none" stroke-width="1.15"/>
<path d="M293.77,300.14 L297.77,300.14 L295.77,296.62 Z" fill="none" stroke-width="1.15"/>
<path d="M299.33,299.67 L303.33,299.67 L301.33,296.15 Z" fill="none" stroke-width="1.15"/>
<path d="M304.90,297.32 L308.90,297.32 L306.90,293.80 Z" fill="none" stroke-width="1.15"/>
<path d="M310.46,296.38 L314.46,296.38 L312.46,292.86 Z" fill="none" stroke-width="1.15"/>
<path d="M316.02,295.44 L320.02,295.44 L318.02,291.92 Z" fill="none" stroke-width="1.15"/>
<path d="M321.59,294.97 L325.59,294.97 L323.59,291.45 Z" fill="none" stroke-width="1.15"/>
<path d="M327.15,293.56 L331.15,293.56 L329.15,290.04 Z" fill="none" stroke-width="1.15"/>
<path d="M332.71,293.56 L336.71,293.56 L334.71,290.04 Z" fill="none" stroke-width="1.15"/>
<path d="M338.28,291.68 L342.28,291.68 L340.28,288.16 Z" fill="none" stroke-width="1.15"/>
<path d="M343.84,289.80 L347.84,289.80 L345.84,286.28 Z" fill="none" stroke-width="1.15"/>
<path d="M349.40,287.64 L353.40,287.64 L351.40,284.12 Z" fill="none" stroke-width="1.15"/>
<path d="M354.97,286.42 L358.97,286.42 L356.97,282.90 Z" fill="none" stroke-width="1.15"/>
<path d="M360.53,285.29 L364.53,285.29 L362.53,281.77 Z" fill="none" stroke-width="1.15"/>
<path d="M366.09,282.47 L370.09,282.47 L368.09,278.95 Z" fill="none" stroke-width="1.15"/>
<path d="M371.66,279.46 L375.66,279.46 L373.66,275.94 Z" fill="none" stroke-width="1.15"/>
<path d="M377.22,282.28 L381.22,282.28 L379.22,278.76 Z" fill="none" stroke-width="1.15"/>
<path d="M382.78,283.22 L386.78,283.22 L384.78,279.70 Z" fill="none" stroke-width="1.15"/>
<path d="M388.35,279.93 L392.35,279.93 L390.35,276.41 Z" fill="none" stroke-width="1.15"/>
<path d="M245.70,296.00 L251.26,300.70 L256.83,302.58 L262.39,303.05 L267.95,303.05 L273.52,302.58 L279.08,302.11 L284.64,301.17 L290.21,300.23 L295.77,299.29 L301.33,298.82 L306.90,296.94 L312.46,296.00 L318.02,294.12 L323.59,294.12 L329.15,291.30 L334.71,292.24 L340.28,290.36 L345.84,288.95 L351.40,288.48 L356.97,288.95 L362.53,288.95 L368.09,289.42 L373.66,288.48 L379.22,288.95 L384.78,288.95 L390.35,288.95" fill="none" stroke-width="0.95"/>
<path d="M245.70,293.90 L247.80,296.00 L245.70,298.10 L243.60,296.00 Z" fill="none" stroke-width="1.15"/>
<path d="M251.26,298.60 L253.36,300.70 L251.26,302.80 L249.16,300.70 Z" fill="none" stroke-width="1.15"/>
<path d="M256.83,300.48 L258.93,302.58 L256.83,304.68 L254.73,302.58 Z" fill="none" stroke-width="1.15"/>
<path d="M262.39,300.95 L264.49,303.05 L262.39,305.15 L260.29,303.05 Z" fill="none" stroke-width="1.15"/>
<path d="M267.95,300.95 L270.05,303.05 L267.95,305.15 L265.85,303.05 Z" fill="none" stroke-width="1.15"/>
<path d="M273.52,300.48 L275.62,302.58 L273.52,304.68 L271.42,302.58 Z" fill="none" stroke-width="1.15"/>
<path d="M279.08,300.01 L281.18,302.11 L279.08,304.21 L276.98,302.11 Z" fill="none" stroke-width="1.15"/>
<path d="M284.64,299.07 L286.74,301.17 L284.64,303.27 L282.54,301.17 Z" fill="none" stroke-width="1.15"/>
<path d="M290.21,298.13 L292.31,300.23 L290.21,302.33 L288.11,300.23 Z" fill="none" stroke-width="1.15"/>
<path d="M295.77,297.19 L297.87,299.29 L295.77,301.39 L293.67,299.29 Z" fill="none" stroke-width="1.15"/>
<path d="M301.33,296.72 L303.43,298.82 L301.33,300.92 L299.23,298.82 Z" fill="none" stroke-width="1.15"/>
<path d="M306.90,294.84 L309.00,296.94 L306.90,299.04 L304.80,296.94 Z" fill="none" stroke-width="1.15"/>
<path d="M312.46,293.90 L314.56,296.00 L312.46,298.10 L310.36,296.00 Z" fill="none" stroke-width="1.15"/>
<path d="M318.02,292.02 L320.12,294.12 L318.02,296.22 L315.92,294.12 Z" fill="none" stroke-width="1.15"/>
<path d="M323.59,292.02 L325.69,294.12 L323.59,296.22 L321.49,294.12 Z" fill="none" stroke-width="1.15"/>
<path d="M329.15,289.20 L331.25,291.30 L329.15,293.40 L327.05,291.30 Z" fill="none" stroke-width="1.15"/>
<path d="M334.71,290.14 L336.81,292.24 L334.71,294.34 L332.61,292.24 Z" fill="none" stroke-width="1.15"/>
<path d="M340.28,288.26 L342.38,290.36 L340.28,292.46 L338.18,290.36 Z" fill="none" stroke-width="1.15"/>
<path d="M345.84,286.85 L347.94,288.95 L345.84,291.05 L343.74,288.95 Z" fill="none" stroke-width="1.15"/>
<path d="M351.40,286.38 L353.50,288.48 L351.40,290.58 L349.30,288.48 Z" fill="none" stroke-width="1.15"/>
<path d="M356.97,286.85 L359.07,288.95 L356.97,291.05 L354.87,288.95 Z" fill="none" stroke-width="1.15"/>
<path d="M362.53,286.85 L364.63,288.95 L362.53,291.05 L360.43,288.95 Z" fill="none" stroke-width="1.15"/>
<path d="M368.09,287.32 L370.19,289.42 L368.09,291.52 L365.99,289.42 Z" fill="none" stroke-width="1.15"/>
<path d="M373.66,286.38 L375.76,288.48 L373.66,290.58 L371.56,288.48 Z" fill="none" stroke-width="1.15"/>
<path d="M379.22,286.85 L381.32,288.95 L379.22,291.05 L377.12,288.95 Z" fill="none" stroke-width="1.15"/>
<path d="M384.78,286.85 L386.88,288.95 L384.78,291.05 L382.68,288.95 Z" fill="none" stroke-width="1.15"/>
<path d="M390.35,286.85 L392.45,288.95 L390.35,291.05 L388.25,288.95 Z" fill="none" stroke-width="1.15"/>
<line x1="390.35" y1="251.82" x2="390.35" y2="238.66" stroke-width="0.8" />
<line x1="388.75" y1="251.82" x2="391.95" y2="251.82" stroke-width="0.8" />
<line x1="388.75" y1="238.66" x2="391.95" y2="238.66" stroke-width="0.8" />
<line x1="373.66" y1="280.96" x2="373.66" y2="275.32" stroke-width="0.8" />
<line x1="372.06" y1="280.96" x2="375.26" y2="280.96" stroke-width="0.8" />
<line x1="372.06" y1="275.32" x2="375.26" y2="275.32" stroke-width="0.8" />
<line x1="390.35" y1="281.43" x2="390.35" y2="275.79" stroke-width="0.8" />
<line x1="388.75" y1="281.43" x2="391.95" y2="281.43" stroke-width="0.8" />
<line x1="388.75" y1="275.79" x2="391.95" y2="275.79" stroke-width="0.8" />
<line x1="318.02" y1="289.42" x2="318.02" y2="281.90" stroke-width="0.8" />
<line x1="316.42" y1="289.42" x2="319.62" y2="289.42" stroke-width="0.8" />
<line x1="316.42" y1="281.90" x2="319.62" y2="281.90" stroke-width="0.8" />
<text x="544.65" y="196.10" font-size="10.2" font-weight="bold" text-anchor="middle" >PA_LZ03</text>
<line x1="460.90" y1="216.30" x2="460.90" y2="332.20" stroke-width="1.5" />
<line x1="456.70" y1="328.00" x2="628.40" y2="328.00" stroke-width="1.5" />
<line x1="456.70" y1="328.00" x2="460.90" y2="328.00" stroke-width="1.5" />
<text x="454.90" y="330.90" font-size="8.2" font-weight="normal" text-anchor="end" >0.0</text>
<line x1="456.70" y1="290.77" x2="460.90" y2="290.77" stroke-width="1.5" />
<text x="454.90" y="293.67" font-size="8.2" font-weight="normal" text-anchor="end" >0.4</text>
<line x1="456.70" y1="253.53" x2="460.90" y2="253.53" stroke-width="1.5" />
<text x="454.90" y="256.43" font-size="8.2" font-weight="normal" text-anchor="end" >0.8</text>
<line x1="456.70" y1="216.30" x2="460.90" y2="216.30" stroke-width="1.5" />
<text x="454.90" y="219.20" font-size="8.2" font-weight="normal" text-anchor="end" >1.2</text>
<line x1="460.90" y1="328.00" x2="460.90" y2="332.20" stroke-width="1.5" />
<text x="460.90" y="342.40" font-size="8.2" font-weight="normal" text-anchor="middle" >0</text>
<line x1="516.73" y1="328.00" x2="516.73" y2="332.20" stroke-width="1.5" />
<text x="516.73" y="342.40" font-size="8.2" font-weight="normal" text-anchor="middle" >50</text>
<line x1="572.57" y1="328.00" x2="572.57" y2="332.20" stroke-width="1.5" />
<text x="572.57" y="342.40" font-size="8.2" font-weight="normal" text-anchor="middle" >100</text>
<line x1="628.40" y1="328.00" x2="628.40" y2="332.20" stroke-width="1.5" />
<text x="628.40" y="342.40" font-size="8.2" font-weight="normal" text-anchor="middle" >150</text>
<text x="545.45" y="356.20" font-size="8.9" font-weight="bold" text-anchor="middle" >Time(min)</text>
<text x="436.70" y="272.60" font-size="11.4" text-anchor="middle" transform="rotate(-90 436.70 272.60)">OD<tspan font-size="9" dy="1.6">600</tspan></text>
<path d="M460.90,281.46 L466.48,285.18 L472.07,285.18 L477.65,285.18 L483.23,285.18 L488.82,281.46 L494.40,280.53 L499.98,279.13 L505.57,277.74 L511.15,274.94 L516.73,273.08 L522.32,268.89 L527.90,265.17 L533.48,254.00 L539.07,250.28 L544.65,249.34 L550.23,246.46 L555.82,246.46 L561.40,244.23 L566.98,237.71 L572.57,235.85 L578.15,236.31 L583.73,231.19 L589.32,228.87 L594.90,229.33 L600.48,227.00 L606.07,224.68" fill="none" stroke-width="0.95"/>
<circle cx="460.90" cy="281.46" r="1.90" fill="none" stroke-width="1.15"/>
<circle cx="466.48" cy="285.18" r="1.90" fill="none" stroke-width="1.15"/>
<circle cx="472.07" cy="285.18" r="1.90" fill="none" stroke-width="1.15"/>
<circle cx="477.65" cy="285.18" r="1.90" fill="none" stroke-width="1.15"/>
<circle cx="483.23" cy="285.18" r="1.90" fill="none" stroke-width="1.15"/>
<circle cx="488.82" cy="281.46" r="1.90" fill="none" stroke-width="1.15"/>
<circle cx="494.40" cy="280.53" r="1.90" fill="none" stroke-width="1.15"/>
<circle cx="499.98" cy="279.13" r="1.90" fill="none" stroke-width="1.15"/>
<circle cx="505.57" cy="277.74" r="1.90" fill="none" stroke-width="1.15"/>
<circle cx="511.15" cy="274.94" r="1.90" fill="none" stroke-width="1.15"/>
<circle cx="516.73" cy="273.08" r="1.90" fill="none" stroke-width="1.15"/>
<circle cx="522.32" cy="268.89" r="1.90" fill="none" stroke-width="1.15"/>
<circle cx="527.90" cy="265.17" r="1.90" fill="none" stroke-width="1.15"/>
<circle cx="533.48" cy="254.00" r="1.90" fill="none" stroke-width="1.15"/>
<circle cx="539.07" cy="250.28" r="1.90" fill="none" stroke-width="1.15"/>
<circle cx="544.65" cy="249.34" r="1.90" fill="none" stroke-width="1.15"/>
<circle cx="550.23" cy="246.46" r="1.90" fill="none" stroke-width="1.15"/>
<circle cx="555.82" cy="246.46" r="1.90" fill="none" stroke-width="1.15"/>
<circle cx="561.40" cy="244.23" r="1.90" fill="none" stroke-width="1.15"/>
<circle cx="566.98" cy="237.71" r="1.90" fill="none" stroke-width="1.15"/>
<circle cx="572.57" cy="235.85" r="1.90" fill="none" stroke-width="1.15"/>
<circle cx="578.15" cy="236.31" r="1.90" fill="none" stroke-width="1.15"/>
<circle cx="583.73" cy="231.19" r="1.90" fill="none" stroke-width="1.15"/>
<circle cx="589.32" cy="228.87" r="1.90" fill="none" stroke-width="1.15"/>
<circle cx="594.90" cy="229.33" r="1.90" fill="none" stroke-width="1.15"/>
<circle cx="600.48" cy="227.00" r="1.90" fill="none" stroke-width="1.15"/>
<circle cx="606.07" cy="224.68" r="1.90" fill="none" stroke-width="1.15"/>
<path d="M460.90,283.32 L466.48,286.11 L472.07,286.11 L477.65,286.11 L483.23,286.11 L488.82,282.39 L494.40,281.46 L499.98,279.60 L505.57,277.74 L511.15,274.94 L516.73,273.08 L522.32,271.45 L527.90,267.73 L533.48,256.56 L539.07,254.70 L544.65,253.53 L550.23,250.93 L555.82,251.63 L561.40,247.62 L566.98,240.97 L572.57,238.17 L578.15,238.64 L583.73,233.99 L589.32,231.66 L594.90,232.36 L600.48,230.50 L606.07,227.47" fill="none" stroke-width="0.95"/>
<path d="M458.90,282.00 L462.90,282.00 L460.90,285.52 Z" fill="none" stroke-width="1.15"/>
<path d="M464.48,284.79 L468.48,284.79 L466.48,288.31 Z" fill="none" stroke-width="1.15"/>
<path d="M470.07,284.79 L474.07,284.79 L472.07,288.31 Z" fill="none" stroke-width="1.15"/>
<path d="M475.65,284.79 L479.65,284.79 L477.65,288.31 Z" fill="none" stroke-width="1.15"/>
<path d="M481.23,284.79 L485.23,284.79 L483.23,288.31 Z" fill="none" stroke-width="1.15"/>
<path d="M486.82,281.07 L490.82,281.07 L488.82,284.59 Z" fill="none" stroke-width="1.15"/>
<path d="M492.40,280.14 L496.40,280.14 L494.40,283.66 Z" fill="none" stroke-width="1.15"/>
<path d="M497.98,278.28 L501.98,278.28 L499.98,281.80 Z" fill="none" stroke-width="1.15"/>
<path d="M503.57,276.42 L507.57,276.42 L505.57,279.94 Z" fill="none" stroke-width="1.15"/>
<path d="M509.15,273.62 L513.15,273.62 L511.15,277.14 Z" fill="none" stroke-width="1.15"/>
<path d="M514.73,271.76 L518.73,271.76 L516.73,275.28 Z" fill="none" stroke-width="1.15"/>
<path d="M520.32,270.13 L524.32,270.13 L522.32,273.65 Z" fill="none" stroke-width="1.15"/>
<path d="M525.90,266.41 L529.90,266.41 L527.90,269.93 Z" fill="none" stroke-width="1.15"/>
<path d="M531.48,255.24 L535.48,255.24 L533.48,258.76 Z" fill="none" stroke-width="1.15"/>
<path d="M537.07,253.38 L541.07,253.38 L539.07,256.90 Z" fill="none" stroke-width="1.15"/>
<path d="M542.65,252.21 L546.65,252.21 L544.65,255.73 Z" fill="none" stroke-width="1.15"/>
<path d="M548.23,249.61 L552.23,249.61 L550.23,253.13 Z" fill="none" stroke-width="1.15"/>
<path d="M553.82,250.31 L557.82,250.31 L555.82,253.83 Z" fill="none" stroke-width="1.15"/>
<path d="M559.40,246.30 L563.40,246.30 L561.40,249.82 Z" fill="none" stroke-width="1.15"/>
<path d="M564.98,239.65 L568.98,239.65 L566.98,243.17 Z" fill="none" stroke-width="1.15"/>
<path d="M570.57,236.85 L574.57,236.85 L572.57,240.37 Z" fill="none" stroke-width="1.15"/>
<path d="M576.15,237.32 L580.15,237.32 L578.15,240.84 Z" fill="none" stroke-width="1.15"/>
<path d="M581.73,232.67 L585.73,232.67 L583.73,236.19 Z" fill="none" stroke-width="1.15"/>
<path d="M587.32,230.34 L591.32,230.34 L589.32,233.86 Z" fill="none" stroke-width="1.15"/>
<path d="M592.90,231.04 L596.90,231.04 L594.90,234.56 Z" fill="none" stroke-width="1.15"/>
<path d="M598.48,229.18 L602.48,229.18 L600.48,232.70 Z" fill="none" stroke-width="1.15"/>
<path d="M604.07,226.15 L608.07,226.15 L606.07,229.67 Z" fill="none" stroke-width="1.15"/>
<path d="M460.90,286.11 L466.48,291.70 L472.07,289.84 L477.65,291.70 L483.23,288.90 L488.82,287.04 L494.40,285.18 L499.98,282.39 L505.57,281.46 L511.15,277.74 L516.73,275.87 L522.32,274.01 L527.90,270.29 L533.48,259.12 L539.07,259.12 L544.65,257.72 L550.23,255.39 L555.82,256.79 L561.40,251.02 L566.98,244.23 L572.57,240.50 L578.15,240.97 L583.73,236.78 L589.32,234.45 L594.90,235.38 L600.48,233.99 L606.07,230.26" fill="none" stroke-width="0.95"/>
<rect x="459.20" y="284.41" width="3.40" height="3.40" fill="none" stroke-width="1.15"/>
<rect x="464.78" y="290.00" width="3.40" height="3.40" fill="none" stroke-width="1.15"/>
<rect x="470.37" y="288.14" width="3.40" height="3.40" fill="none" stroke-width="1.15"/>
<rect x="475.95" y="290.00" width="3.40" height="3.40" fill="none" stroke-width="1.15"/>
<rect x="481.53" y="287.20" width="3.40" height="3.40" fill="none" stroke-width="1.15"/>
<rect x="487.12" y="285.34" width="3.40" height="3.40" fill="none" stroke-width="1.15"/>
<rect x="492.70" y="283.48" width="3.40" height="3.40" fill="none" stroke-width="1.15"/>
<rect x="498.28" y="280.69" width="3.40" height="3.40" fill="none" stroke-width="1.15"/>
<rect x="503.87" y="279.76" width="3.40" height="3.40" fill="none" stroke-width="1.15"/>
<rect x="509.45" y="276.04" width="3.40" height="3.40" fill="none" stroke-width="1.15"/>
<rect x="515.03" y="274.17" width="3.40" height="3.40" fill="none" stroke-width="1.15"/>
<rect x="520.62" y="272.31" width="3.40" height="3.40" fill="none" stroke-width="1.15"/>
<rect x="526.20" y="268.59" width="3.40" height="3.40" fill="none" stroke-width="1.15"/>
<rect x="531.78" y="257.42" width="3.40" height="3.40" fill="none" stroke-width="1.15"/>
<rect x="537.37" y="257.42" width="3.40" height="3.40" fill="none" stroke-width="1.15"/>
<rect x="542.95" y="256.02" width="3.40" height="3.40" fill="none" stroke-width="1.15"/>
<rect x="548.53" y="253.69" width="3.40" height="3.40" fill="none" stroke-width="1.15"/>
<rect x="554.12" y="255.09" width="3.40" height="3.40" fill="none" stroke-width="1.15"/>
<rect x="559.70" y="249.32" width="3.40" height="3.40" fill="none" stroke-width="1.15"/>
<rect x="565.28" y="242.53" width="3.40" height="3.40" fill="none" stroke-width="1.15"/>
<rect x="570.87" y="238.80" width="3.40" height="3.40" fill="none" stroke-width="1.15"/>
<rect x="576.45" y="239.27" width="3.40" height="3.40" fill="none" stroke-width="1.15"/>
<rect x="582.03" y="235.08" width="3.40" height="3.40" fill="none" stroke-width="1.15"/>
<rect x="587.62" y="232.75" width="3.40" height="3.40" fill="none" stroke-width="1.15"/>
<rect x="593.20" y="233.68" width="3.40" height="3.40" fill="none" stroke-width="1.15"/>
<rect x="598.78" y="232.29" width="3.40" height="3.40" fill="none" stroke-width="1.15"/>
<rect x="604.37" y="228.56" width="3.40" height="3.40" fill="none" stroke-width="1.15"/>
<path d="M460.90,287.04 L466.48,291.70 L472.07,290.77 L477.65,291.70 L483.23,289.84 L488.82,287.97 L494.40,286.11 L499.98,283.32 L505.57,282.39 L511.15,278.67 L516.73,276.80 L522.32,273.24 L527.90,269.52 L533.48,258.35 L539.07,257.79 L544.65,256.47 L550.23,254.05 L555.82,255.24 L561.40,250.00 L566.98,243.25 L572.57,239.80 L578.15,240.27 L583.73,235.94 L589.32,233.61 L594.90,234.47 L600.48,232.94 L606.07,229.42" fill="none" stroke-width="0.95"/>
<polygon points="462.80,287.04 461.85,288.69 459.95,288.69 459.00,287.04 459.95,285.40 461.85,285.40" fill="none" stroke-width="1.15"/>
<polygon points="468.38,291.70 467.43,293.34 465.53,293.34 464.58,291.70 465.53,290.05 467.43,290.05" fill="none" stroke-width="1.15"/>
<polygon points="473.97,290.77 473.02,292.41 471.12,292.41 470.17,290.77 471.12,289.12 473.02,289.12" fill="none" stroke-width="1.15"/>
<polygon points="479.55,291.70 478.60,293.34 476.70,293.34 475.75,291.70 476.70,290.05 478.60,290.05" fill="none" stroke-width="1.15"/>
<polygon points="485.13,289.84 484.18,291.48 482.28,291.48 481.33,289.84 482.28,288.19 484.18,288.19" fill="none" stroke-width="1.15"/>
<polygon points="490.72,287.97 489.77,289.62 487.87,289.62 486.92,287.97 487.87,286.33 489.77,286.33" fill="none" stroke-width="1.15"/>
<polygon points="496.30,286.11 495.35,287.76 493.45,287.76 492.50,286.11 493.45,284.47 495.35,284.47" fill="none" stroke-width="1.15"/>
<polygon points="501.88,283.32 500.93,284.97 499.03,284.97 498.08,283.32 499.03,281.67 500.93,281.67" fill="none" stroke-width="1.15"/>
<polygon points="507.47,282.39 506.52,284.03 504.62,284.03 503.67,282.39 504.62,280.74 506.52,280.74" fill="none" stroke-width="1.15"/>
<polygon points="513.05,278.67 512.10,280.31 510.20,280.31 509.25,278.67 510.20,277.02 512.10,277.02" fill="none" stroke-width="1.15"/>
<polygon points="518.63,276.80 517.68,278.45 515.78,278.45 514.83,276.80 515.78,275.16 517.68,275.16" fill="none" stroke-width="1.15"/>
<polygon points="524.22,273.24 523.27,274.89 521.37,274.89 520.42,273.24 521.37,271.60 523.27,271.60" fill="none" stroke-width="1.15"/>
<polygon points="529.80,269.52 528.85,271.17 526.95,271.17 526.00,269.52 526.95,267.87 528.85,267.87" fill="none" stroke-width="1.15"/>
<polygon points="535.38,258.35 534.43,260.00 532.53,260.00 531.58,258.35 532.53,256.70 534.43,256.70" fill="none" stroke-width="1.15"/>
<polygon points="540.97,257.79 540.02,259.44 538.12,259.44 537.17,257.79 538.12,256.15 540.02,256.15" fill="none" stroke-width="1.15"/>
<polygon points="546.55,256.47 545.60,258.11 543.70,258.11 542.75,256.47 543.70,254.82 545.60,254.82" fill="none" stroke-width="1.15"/>
<polygon points="552.13,254.05 551.18,255.70 549.28,255.70 548.33,254.05 549.28,252.41 551.18,252.41" fill="none" stroke-width="1.15"/>
<polygon points="557.72,255.24 556.77,256.89 554.87,256.89 553.92,255.24 554.87,253.60 556.77,253.60" fill="none" stroke-width="1.15"/>
<polygon points="563.30,250.00 562.35,251.65 560.45,251.65 559.50,250.00 560.45,248.36 562.35,248.36" fill="none" stroke-width="1.15"/>
<polygon points="568.88,243.25 567.93,244.89 566.03,244.89 565.08,243.25 566.03,241.60 567.93,241.60" fill="none" stroke-width="1.15"/>
<polygon points="574.47,239.80 573.52,241.45 571.62,241.45 570.67,239.80 571.62,238.16 573.52,238.16" fill="none" stroke-width="1.15"/>
<polygon points="580.05,240.27 579.10,241.91 577.20,241.91 576.25,240.27 577.20,238.62 579.10,238.62" fill="none" stroke-width="1.15"/>
<polygon points="585.63,235.94 584.68,237.59 582.78,237.59 581.83,235.94 582.78,234.30 584.68,234.30" fill="none" stroke-width="1.15"/>
<polygon points="591.22,233.61 590.27,235.26 588.37,235.26 587.42,233.61 588.37,231.97 590.27,231.97" fill="none" stroke-width="1.15"/>
<polygon points="596.80,234.47 595.85,236.12 593.95,236.12 593.00,234.47 593.95,232.83 595.85,232.83" fill="none" stroke-width="1.15"/>
<polygon points="602.38,232.94 601.43,234.58 599.53,234.58 598.58,232.94 599.53,231.29 601.43,231.29" fill="none" stroke-width="1.15"/>
<polygon points="607.97,229.42 607.02,231.07 605.12,231.07 604.17,229.42 605.12,227.78 607.02,227.78" fill="none" stroke-width="1.15"/>
<path d="M460.90,284.25 L466.48,287.04 L472.07,287.04 L477.65,287.04 L483.23,286.11 L488.82,283.32 L494.40,282.39 L499.98,280.53 L505.57,278.67 L511.15,275.87 L516.73,274.01 L522.32,270.43 L527.90,266.70 L533.48,255.53 L539.07,252.93 L544.65,251.86 L550.23,249.14 L555.82,249.56 L561.40,246.26 L566.98,239.66 L572.57,237.24 L578.15,237.71 L583.73,232.87 L589.32,230.54 L594.90,231.15 L600.48,229.10 L606.07,226.35" fill="none" stroke-width="0.95"/>
<path d="M458.90,285.57 L462.90,285.57 L460.90,282.05 Z" fill="none" stroke-width="1.15"/>
<path d="M464.48,288.36 L468.48,288.36 L466.48,284.84 Z" fill="none" stroke-width="1.15"/>
<path d="M470.07,288.36 L474.07,288.36 L472.07,284.84 Z" fill="none" stroke-width="1.15"/>
<path d="M475.65,288.36 L479.65,288.36 L477.65,284.84 Z" fill="none" stroke-width="1.15"/>
<path d="M481.23,287.43 L485.23,287.43 L483.23,283.91 Z" fill="none" stroke-width="1.15"/>
<path d="M486.82,284.64 L490.82,284.64 L488.82,281.12 Z" fill="none" stroke-width="1.15"/>
<path d="M492.40,283.71 L496.40,283.71 L494.40,280.19 Z" fill="none" stroke-width="1.15"/>
<path d="M497.98,281.85 L501.98,281.85 L499.98,278.33 Z" fill="none" stroke-width="1.15"/>
<path d="M503.57,279.99 L507.57,279.99 L505.57,276.47 Z" fill="none" stroke-width="1.15"/>
<path d="M509.15,277.19 L513.15,277.19 L511.15,273.67 Z" fill="none" stroke-width="1.15"/>
<path d="M514.73,275.33 L518.73,275.33 L516.73,271.81 Z" fill="none" stroke-width="1.15"/>
<path d="M520.32,271.75 L524.32,271.75 L522.32,268.23 Z" fill="none" stroke-width="1.15"/>
<path d="M525.90,268.02 L529.90,268.02 L527.90,264.50 Z" fill="none" stroke-width="1.15"/>
<path d="M531.48,256.85 L535.48,256.85 L533.48,253.33 Z" fill="none" stroke-width="1.15"/>
<path d="M537.07,254.25 L541.07,254.25 L539.07,250.73 Z" fill="none" stroke-width="1.15"/>
<path d="M542.65,253.18 L546.65,253.18 L544.65,249.66 Z" fill="none" stroke-width="1.15"/>
<path d="M548.23,250.46 L552.23,250.46 L550.23,246.94 Z" fill="none" stroke-width="1.15"/>
<path d="M553.82,250.88 L557.82,250.88 L555.82,247.36 Z" fill="none" stroke-width="1.15"/>
<path d="M559.40,247.58 L563.40,247.58 L561.40,244.06 Z" fill="none" stroke-width="1.15"/>
<path d="M564.98,240.98 L568.98,240.98 L566.98,237.46 Z" fill="none" stroke-width="1.15"/>
<path d="M570.57,238.56 L574.57,238.56 L572.57,235.04 Z" fill="none" stroke-width="1.15"/>
<path d="M576.15,239.03 L580.15,239.03 L578.15,235.51 Z" fill="none" stroke-width="1.15"/>
<path d="M581.73,234.19 L585.73,234.19 L583.73,230.67 Z" fill="none" stroke-width="1.15"/>
<path d="M587.32,231.86 L591.32,231.86 L589.32,228.34 Z" fill="none" stroke-width="1.15"/>
<path d="M592.90,232.47 L596.90,232.47 L594.90,228.95 Z" fill="none" stroke-width="1.15"/>
<path d="M598.48,230.42 L602.48,230.42 L600.48,226.90 Z" fill="none" stroke-width="1.15"/>
<path d="M604.07,227.67 L608.07,227.67 L606.07,224.15 Z" fill="none" stroke-width="1.15"/>
<path d="M460.90,277.18 L466.48,279.60 L472.07,279.13 L477.65,279.13 L483.23,279.13 L488.82,279.04 L494.40,278.48 L499.98,277.27 L505.57,276.34 L511.15,273.55 L516.73,271.68 L522.32,272.22 L527.90,268.50 L533.48,257.33 L539.07,256.02 L544.65,254.79 L550.23,252.27 L555.82,253.17 L561.40,248.64 L566.98,241.94 L572.57,238.87 L578.15,239.34 L583.73,234.82 L589.32,232.50 L594.90,233.26 L600.48,231.54 L606.07,228.31" fill="none" stroke-width="0.95"/>
<path d="M460.90,275.08 L463.00,277.18 L460.90,279.28 L458.80,277.18 Z" fill="none" stroke-width="1.15"/>
<path d="M466.48,277.50 L468.58,279.60 L466.48,281.70 L464.38,279.60 Z" fill="none" stroke-width="1.15"/>
<path d="M472.07,277.03 L474.17,279.13 L472.07,281.23 L469.97,279.13 Z" fill="none" stroke-width="1.15"/>
<path d="M477.65,277.03 L479.75,279.13 L477.65,281.23 L475.55,279.13 Z" fill="none" stroke-width="1.15"/>
<path d="M483.23,277.03 L485.33,279.13 L483.23,281.23 L481.13,279.13 Z" fill="none" stroke-width="1.15"/>
<path d="M488.82,276.94 L490.92,279.04 L488.82,281.14 L486.72,279.04 Z" fill="none" stroke-width="1.15"/>
<path d="M494.40,276.38 L496.50,278.48 L494.40,280.58 L492.30,278.48 Z" fill="none" stroke-width="1.15"/>
<path d="M499.98,275.17 L502.08,277.27 L499.98,279.37 L497.88,277.27 Z" fill="none" stroke-width="1.15"/>
<path d="M505.57,274.24 L507.67,276.34 L505.57,278.44 L503.47,276.34 Z" fill="none" stroke-width="1.15"/>
<path d="M511.15,271.45 L513.25,273.55 L511.15,275.65 L509.05,273.55 Z" fill="none" stroke-width="1.15"/>
<path d="M516.73,269.58 L518.83,271.68 L516.73,273.78 L514.63,271.68 Z" fill="none" stroke-width="1.15"/>
<path d="M522.32,270.12 L524.42,272.22 L522.32,274.32 L520.22,272.22 Z" fill="none" stroke-width="1.15"/>
<path d="M527.90,266.40 L530.00,268.50 L527.90,270.60 L525.80,268.50 Z" fill="none" stroke-width="1.15"/>
<path d="M533.48,255.23 L535.58,257.33 L533.48,259.43 L531.38,257.33 Z" fill="none" stroke-width="1.15"/>
<path d="M539.07,253.92 L541.17,256.02 L539.07,258.12 L536.97,256.02 Z" fill="none" stroke-width="1.15"/>
<path d="M544.65,252.69 L546.75,254.79 L544.65,256.89 L542.55,254.79 Z" fill="none" stroke-width="1.15"/>
<path d="M550.23,250.17 L552.33,252.27 L550.23,254.37 L548.13,252.27 Z" fill="none" stroke-width="1.15"/>
<path d="M555.82,251.07 L557.92,253.17 L555.82,255.27 L553.72,253.17 Z" fill="none" stroke-width="1.15"/>
<path d="M561.40,246.54 L563.50,248.64 L561.40,250.74 L559.30,248.64 Z" fill="none" stroke-width="1.15"/>
<path d="M566.98,239.84 L569.08,241.94 L566.98,244.04 L564.88,241.94 Z" fill="none" stroke-width="1.15"/>
<path d="M572.57,236.77 L574.67,238.87 L572.57,240.97 L570.47,238.87 Z" fill="none" stroke-width="1.15"/>
<path d="M578.15,237.24 L580.25,239.34 L578.15,241.44 L576.05,239.34 Z" fill="none" stroke-width="1.15"/>
<path d="M583.73,232.72 L585.83,234.82 L583.73,236.92 L581.63,234.82 Z" fill="none" stroke-width="1.15"/>
<path d="M589.32,230.40 L591.42,232.50 L589.32,234.60 L587.22,232.50 Z" fill="none" stroke-width="1.15"/>
<path d="M594.90,231.16 L597.00,233.26 L594.90,235.36 L592.80,233.26 Z" fill="none" stroke-width="1.15"/>
<path d="M600.48,229.44 L602.58,231.54 L600.48,233.64 L598.38,231.54 Z" fill="none" stroke-width="1.15"/>
<path d="M606.07,226.21 L608.17,228.31 L606.07,230.41 L603.97,228.31 Z" fill="none" stroke-width="1.15"/>
<line x1="638.30" y1="226.70" x2="650.60" y2="226.70" stroke-width="1.0" />
<circle cx="644.50" cy="226.70" r="1.90" fill="none" stroke-width="0.9"/>
<text x="657.30" y="230.00" font-size="9.1" font-weight="normal" text-anchor="start" >Mock</text>
<line x1="638.30" y1="240.00" x2="650.60" y2="240.00" stroke-width="1.0" />
<path d="M642.50,238.68 L646.50,238.68 L644.50,242.20 Z" fill="none" stroke-width="0.9"/>
<text x="657.30" y="243.30" font-size="9.1" font-weight="normal" text-anchor="start" >MOI=0.01</text>
<line x1="638.30" y1="253.20" x2="650.60" y2="253.20" stroke-width="1.0" />
<rect x="642.80" y="251.50" width="3.40" height="3.40" fill="none" stroke-width="0.9"/>
<text x="657.30" y="256.50" font-size="9.1" font-weight="normal" text-anchor="start" >MOI=0.1</text>
<line x1="638.30" y1="266.40" x2="650.60" y2="266.40" stroke-width="1.0" />
<polygon points="646.40,266.40 645.45,268.05 643.55,268.05 642.60,266.40 643.55,264.75 645.45,264.75" fill="none" stroke-width="0.9"/>
<text x="657.30" y="269.70" font-size="9.1" font-weight="normal" text-anchor="start" >MOI=1</text>
<line x1="638.30" y1="279.60" x2="650.60" y2="279.60" stroke-width="1.0" />
<path d="M642.50,280.92 L646.50,280.92 L644.50,277.40 Z" fill="none" stroke-width="0.9"/>
<text x="657.30" y="282.90" font-size="9.1" font-weight="normal" text-anchor="start" >MOI=10</text>
<line x1="638.30" y1="292.90" x2="650.60" y2="292.90" stroke-width="1.0" />
<path d="M644.50,290.80 L646.60,292.90 L644.50,295.00 L642.40,292.90 Z" fill="none" stroke-width="0.9"/>
<text x="657.30" y="296.20" font-size="9.1" font-weight="normal" text-anchor="start" >MOI=100</text>
</g>
</svg>
</body></html>
